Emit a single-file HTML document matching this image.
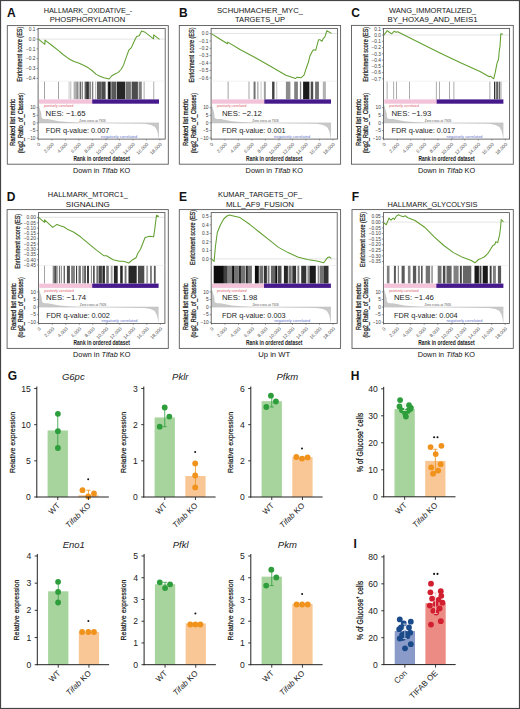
<!DOCTYPE html>
<html><head><meta charset="utf-8"><style>
html,body{margin:0;padding:0;background:#fff;}
body{width:520px;height:709px;overflow:hidden;font-family:'Liberation Sans',sans-serif;}
svg{display:block;}
</style></head><body>
<svg width="520" height="709" viewBox="0 0 520 709" style="font-family:'Liberation Sans',sans-serif"><rect x="0.00" y="0.00" width="520.00" height="709.00" fill="#fff" stroke="none" stroke-width="1"/><text x="7.00" y="16.90" font-size="12" font-weight="bold" fill="#111">A</text><text x="88.00" y="13.20" font-size="7.5" text-anchor="middle" fill="#151515" textLength="88.60" lengthAdjust="spacingAndGlyphs">HALLMARK_OXIDATIVE_-</text><text x="87.40" y="22.30" font-size="7.5" text-anchor="middle" fill="#151515" textLength="75.50" lengthAdjust="spacingAndGlyphs">PHOSPHORYLATION</text><rect x="7.30" y="25.60" width="161.00" height="138.60" fill="none" stroke="#5a5a5a" stroke-width="0.9"/><line x1="38.10" y1="39.10" x2="164.70" y2="39.10" stroke="#d8d8d8" stroke-width="0.7"/><rect x="44.10" y="81.50" width="0.80" height="17.80" fill="rgb(140,140,140)" stroke="none" stroke-width="1"/><rect x="58.20" y="81.50" width="0.80" height="17.80" fill="rgb(140,140,140)" stroke="none" stroke-width="1"/><rect x="68.70" y="81.50" width="0.70" height="17.80" fill="rgb(178,178,178)" stroke="none" stroke-width="1"/><rect x="70.50" y="81.50" width="0.70" height="17.80" fill="rgb(153,153,153)" stroke="none" stroke-width="1"/><rect x="73.60" y="81.50" width="2.40" height="17.80" fill="rgb(178,178,178)" stroke="none" stroke-width="1"/><rect x="76.20" y="81.50" width="2.30" height="17.80" fill="rgb(140,140,140)" stroke="none" stroke-width="1"/><rect x="79.70" y="81.50" width="1.00" height="17.80" fill="rgb(38,38,38)" stroke="none" stroke-width="1"/><rect x="81.60" y="81.50" width="1.30" height="17.80" fill="rgb(128,128,128)" stroke="none" stroke-width="1"/><rect x="84.70" y="81.50" width="1.00" height="17.80" fill="rgb(38,38,38)" stroke="none" stroke-width="1"/><rect x="86.10" y="81.50" width="2.80" height="17.80" fill="rgb(51,51,51)" stroke="none" stroke-width="1"/><rect x="89.60" y="81.50" width="0.90" height="17.80" fill="rgb(26,26,26)" stroke="none" stroke-width="1"/><rect x="91.90" y="81.50" width="1.40" height="17.80" fill="rgb(128,128,128)" stroke="none" stroke-width="1"/><rect x="95.10" y="81.50" width="0.80" height="17.80" fill="rgb(178,178,178)" stroke="none" stroke-width="1"/><rect x="96.90" y="81.50" width="4.80" height="17.80" fill="rgb(89,89,89)" stroke="none" stroke-width="1"/><rect x="101.80" y="81.50" width="3.80" height="17.80" fill="rgb(76,76,76)" stroke="none" stroke-width="1"/><rect x="106.90" y="81.50" width="0.80" height="17.80" fill="rgb(178,178,178)" stroke="none" stroke-width="1"/><rect x="108.10" y="81.50" width="2.60" height="17.80" fill="rgb(13,13,13)" stroke="none" stroke-width="1"/><rect x="111.30" y="81.50" width="5.10" height="17.80" fill="rgb(89,89,89)" stroke="none" stroke-width="1"/><rect x="116.90" y="81.50" width="8.40" height="17.80" fill="rgb(38,38,38)" stroke="none" stroke-width="1"/><rect x="125.90" y="81.50" width="5.00" height="17.80" fill="rgb(115,115,115)" stroke="none" stroke-width="1"/><rect x="131.60" y="81.50" width="6.30" height="17.80" fill="rgb(76,76,76)" stroke="none" stroke-width="1"/><rect x="138.60" y="81.50" width="3.20" height="17.80" fill="rgb(128,128,128)" stroke="none" stroke-width="1"/><rect x="143.70" y="81.50" width="0.80" height="17.80" fill="rgb(153,153,153)" stroke="none" stroke-width="1"/><rect x="153.40" y="81.50" width="0.80" height="17.80" fill="rgb(153,153,153)" stroke="none" stroke-width="1"/><rect x="38.90" y="99.40" width="53.30" height="4.30" fill="#f3c3da" stroke="none" stroke-width="1"/><rect x="92.20" y="99.40" width="66.80" height="4.30" fill="#46198c" stroke="none" stroke-width="1"/><polygon points="38.6,122.9 38.6,104.2 39.9,109.0 41.4,113.5 43.9,116.8 48.9,119.2 58.9,121.2 70.9,122.3 80.1,122.7 80.1,122.9" fill="#c8c8c8"/><polygon points="98.1,122.9 145.0,123.7 151.0,124.9 155.0,126.9 157.0,130.4 158.0,133.9 158.7,138.4 159.0,138.4 159.0,122.9" fill="#c8c8c8"/><line x1="38.10" y1="122.90" x2="159.00" y2="122.90" stroke="#bdbdbd" stroke-width="0.6"/><rect x="41.40" y="104.30" width="60.00" height="14.70" rx="3.2" fill="#fff"/><text x="43.90" y="107.30" font-size="3.2" fill="#e05a6a" textLength="29.50" lengthAdjust="spacingAndGlyphs">positively correlated</text><text x="79.30" y="122.20" font-size="3.0" fill="#555" textLength="26.50" lengthAdjust="spacingAndGlyphs">Zero cross at 7926</text><text x="101.10" y="137.60" font-size="3.2" fill="#6070c8" textLength="36.00" lengthAdjust="spacingAndGlyphs">negatively correlated</text><text x="45.60" y="116.00" font-size="7.8" fill="#222" textLength="40.00" lengthAdjust="spacingAndGlyphs">NES: −1.65</text><text x="45.80" y="132.50" font-size="7.6" fill="#222" textLength="63.60" lengthAdjust="spacingAndGlyphs">FDR q-value: 0.007</text><rect x="38.10" y="28.40" width="127.10" height="110.70" fill="none" stroke="#555" stroke-width="0.85"/><line x1="38.10" y1="81.20" x2="165.20" y2="81.20" stroke="#e4e4e4" stroke-width="0.5"/><polyline points="38.4,39.1 44.9,44.3 45.0,40.1 52.0,45.5 58.9,50.8 63.0,54.5 68.7,58.7 74.0,61.5 79.2,63.3 84.0,65.5 88.3,67.8 92.0,70.5 96.2,74.4 100.0,76.3 103.9,77.7 109.2,79.0 111.8,75.7 115.0,74.0 118.3,72.4 121.0,69.5 123.5,65.2 126.2,57.4 128.8,50.2 131.4,47.6 134.0,41.7 136.6,36.5 139.2,35.8 141.6,31.0 144.5,31.9 153.6,38.8 153.7,34.9 159.5,39.3" fill="none" stroke="#62a030" stroke-width="1.05" stroke-linejoin="round"/><line x1="36.50" y1="29.30" x2="38.10" y2="29.30" stroke="#555" stroke-width="0.6"/><text x="35.50" y="31.00" font-size="4.8" text-anchor="end" fill="#3a3a3a">0.1</text><line x1="36.50" y1="39.10" x2="38.10" y2="39.10" stroke="#555" stroke-width="0.6"/><text x="35.50" y="40.80" font-size="4.8" text-anchor="end" fill="#3a3a3a">0.0</text><line x1="36.50" y1="48.90" x2="38.10" y2="48.90" stroke="#555" stroke-width="0.6"/><text x="35.50" y="50.60" font-size="4.8" text-anchor="end" fill="#3a3a3a">−0.1</text><line x1="36.50" y1="58.70" x2="38.10" y2="58.70" stroke="#555" stroke-width="0.6"/><text x="35.50" y="60.40" font-size="4.8" text-anchor="end" fill="#3a3a3a">−0.2</text><line x1="36.50" y1="68.50" x2="38.10" y2="68.50" stroke="#555" stroke-width="0.6"/><text x="35.50" y="70.20" font-size="4.8" text-anchor="end" fill="#3a3a3a">−0.3</text><line x1="36.50" y1="78.30" x2="38.10" y2="78.30" stroke="#555" stroke-width="0.6"/><text x="35.50" y="80.00" font-size="4.8" text-anchor="end" fill="#3a3a3a">−0.4</text><line x1="36.50" y1="107.70" x2="38.10" y2="107.70" stroke="#555" stroke-width="0.6"/><text x="35.50" y="109.40" font-size="4.8" text-anchor="end" fill="#3a3a3a">10</text><line x1="36.50" y1="115.30" x2="38.10" y2="115.30" stroke="#555" stroke-width="0.6"/><text x="35.50" y="117.00" font-size="4.8" text-anchor="end" fill="#3a3a3a">5</text><line x1="36.50" y1="122.90" x2="38.10" y2="122.90" stroke="#555" stroke-width="0.6"/><text x="35.50" y="124.60" font-size="4.8" text-anchor="end" fill="#3a3a3a">0</text><line x1="36.50" y1="130.50" x2="38.10" y2="130.50" stroke="#555" stroke-width="0.6"/><text x="35.50" y="132.20" font-size="4.8" text-anchor="end" fill="#3a3a3a">−5</text><line x1="36.50" y1="138.10" x2="38.10" y2="138.10" stroke="#555" stroke-width="0.6"/><text x="35.50" y="139.80" font-size="4.8" text-anchor="end" fill="#3a3a3a">−10</text><line x1="38.40" y1="139.10" x2="38.40" y2="140.40" stroke="#555" stroke-width="0.6"/><text x="40.70" y="144.70" font-size="4.8" text-anchor="end" fill="#555" transform="rotate(-45 40.70 144.70)">0</text><line x1="51.90" y1="139.10" x2="51.90" y2="140.40" stroke="#555" stroke-width="0.6"/><text x="54.20" y="144.70" font-size="4.8" text-anchor="end" fill="#555" transform="rotate(-45 54.20 144.70)">2,000</text><line x1="65.40" y1="139.10" x2="65.40" y2="140.40" stroke="#555" stroke-width="0.6"/><text x="67.70" y="144.70" font-size="4.8" text-anchor="end" fill="#555" transform="rotate(-45 67.70 144.70)">4,000</text><line x1="78.90" y1="139.10" x2="78.90" y2="140.40" stroke="#555" stroke-width="0.6"/><text x="81.20" y="144.70" font-size="4.8" text-anchor="end" fill="#555" transform="rotate(-45 81.20 144.70)">6,000</text><line x1="92.40" y1="139.10" x2="92.40" y2="140.40" stroke="#555" stroke-width="0.6"/><text x="94.70" y="144.70" font-size="4.8" text-anchor="end" fill="#555" transform="rotate(-45 94.70 144.70)">8,000</text><line x1="105.90" y1="139.10" x2="105.90" y2="140.40" stroke="#555" stroke-width="0.6"/><text x="108.20" y="144.70" font-size="4.8" text-anchor="end" fill="#555" transform="rotate(-45 108.20 144.70)">10,000</text><line x1="119.40" y1="139.10" x2="119.40" y2="140.40" stroke="#555" stroke-width="0.6"/><text x="121.70" y="144.70" font-size="4.8" text-anchor="end" fill="#555" transform="rotate(-45 121.70 144.70)">12,000</text><line x1="132.90" y1="139.10" x2="132.90" y2="140.40" stroke="#555" stroke-width="0.6"/><text x="135.20" y="144.70" font-size="4.8" text-anchor="end" fill="#555" transform="rotate(-45 135.20 144.70)">14,000</text><line x1="146.40" y1="139.10" x2="146.40" y2="140.40" stroke="#555" stroke-width="0.6"/><text x="148.70" y="144.70" font-size="4.8" text-anchor="end" fill="#555" transform="rotate(-45 148.70 144.70)">16,000</text><line x1="159.90" y1="139.10" x2="159.90" y2="140.40" stroke="#555" stroke-width="0.6"/><text x="162.20" y="144.70" font-size="4.8" text-anchor="end" fill="#555" transform="rotate(-45 162.20 144.70)">18,000</text><text x="101.65" y="161.20" font-size="7.0" text-anchor="middle" font-weight="bold" fill="#222" textLength="56.30" lengthAdjust="spacingAndGlyphs">Rank in ordered dataset</text><text x="22.10" y="54.20" font-size="6.8" text-anchor="middle" fill="#1a1a1a" textLength="55.00" lengthAdjust="spacingAndGlyphs" transform="rotate(-90 22.10 54.20)" stroke="#1a1a1a" stroke-width="0.25">Enrichment score (ES)</text><text x="15.30" y="122.60" font-size="6.8" text-anchor="middle" fill="#1a1a1a" textLength="47.00" lengthAdjust="spacingAndGlyphs" transform="rotate(-90 15.30 122.60)" stroke="#1a1a1a" stroke-width="0.25">Ranked  list metric</text><text x="22.90" y="123.10" font-size="6.8" text-anchor="middle" fill="#1a1a1a" textLength="60.40" lengthAdjust="spacingAndGlyphs" transform="rotate(-90 22.90 123.10)" stroke="#1a1a1a" stroke-width="0.25">(log2_Ratio_of_Classes)</text><text x="101.65" y="172.70" font-size="7.4" text-anchor="middle" fill="#111" textLength="57.3" lengthAdjust="spacingAndGlyphs">Down in <tspan font-style="italic">Tifab</tspan> KO</text><text x="179.00" y="16.90" font-size="12" font-weight="bold" fill="#111">B</text><text x="260.00" y="13.20" font-size="7.5" text-anchor="middle" fill="#151515" textLength="86.00" lengthAdjust="spacingAndGlyphs">SCHUHMACHER_MYC_</text><text x="260.00" y="22.30" font-size="7.5" text-anchor="middle" fill="#151515" textLength="50.00" lengthAdjust="spacingAndGlyphs">TARGETS_UP</text><rect x="179.30" y="25.50" width="161.30" height="138.70" fill="none" stroke="#5a5a5a" stroke-width="0.9"/><line x1="211.10" y1="33.50" x2="336.90" y2="33.50" stroke="#d8d8d8" stroke-width="0.7"/><rect x="227.70" y="81.50" width="0.80" height="17.80" fill="rgb(140,140,140)" stroke="none" stroke-width="1"/><rect x="248.60" y="81.50" width="0.80" height="17.80" fill="rgb(140,140,140)" stroke="none" stroke-width="1"/><rect x="253.70" y="81.50" width="1.00" height="17.80" fill="rgb(51,51,51)" stroke="none" stroke-width="1"/><rect x="254.80" y="81.50" width="0.80" height="17.80" fill="rgb(128,128,128)" stroke="none" stroke-width="1"/><rect x="257.50" y="81.50" width="0.80" height="17.80" fill="rgb(115,115,115)" stroke="none" stroke-width="1"/><rect x="260.70" y="81.50" width="0.70" height="17.80" fill="rgb(178,178,178)" stroke="none" stroke-width="1"/><rect x="263.90" y="81.50" width="0.80" height="17.80" fill="rgb(115,115,115)" stroke="none" stroke-width="1"/><rect x="265.20" y="81.50" width="0.80" height="17.80" fill="rgb(153,153,153)" stroke="none" stroke-width="1"/><rect x="272.10" y="81.50" width="2.40" height="17.80" fill="rgb(64,64,64)" stroke="none" stroke-width="1"/><rect x="276.40" y="81.50" width="0.80" height="17.80" fill="rgb(178,178,178)" stroke="none" stroke-width="1"/><rect x="285.90" y="81.50" width="4.50" height="17.80" fill="rgb(140,140,140)" stroke="none" stroke-width="1"/><rect x="294.20" y="81.50" width="3.70" height="17.80" fill="rgb(128,128,128)" stroke="none" stroke-width="1"/><rect x="299.90" y="81.50" width="1.30" height="17.80" fill="rgb(128,128,128)" stroke="none" stroke-width="1"/><rect x="303.10" y="81.50" width="6.30" height="17.80" fill="rgb(26,26,26)" stroke="none" stroke-width="1"/><rect x="310.70" y="81.50" width="2.50" height="17.80" fill="rgb(76,76,76)" stroke="none" stroke-width="1"/><rect x="315.10" y="81.50" width="3.80" height="17.80" fill="rgb(115,115,115)" stroke="none" stroke-width="1"/><rect x="322.80" y="81.50" width="3.10" height="17.80" fill="rgb(178,178,178)" stroke="none" stroke-width="1"/><rect x="211.90" y="99.40" width="52.40" height="4.30" fill="#f3c3da" stroke="none" stroke-width="1"/><rect x="264.30" y="99.40" width="66.70" height="4.30" fill="#46198c" stroke="none" stroke-width="1"/><polygon points="211.6,122.9 211.6,104.2 212.9,109.0 214.4,113.5 216.9,116.8 221.9,119.2 231.9,121.2 243.9,122.3 253.1,122.7 253.1,122.9" fill="#c8c8c8"/><polygon points="271.1,122.9 317.0,123.7 323.0,124.9 327.0,126.9 329.0,130.4 330.0,133.9 330.7,138.4 331.0,138.4 331.0,122.9" fill="#c8c8c8"/><line x1="211.10" y1="122.90" x2="331.00" y2="122.90" stroke="#bdbdbd" stroke-width="0.6"/><rect x="214.40" y="104.30" width="60.00" height="14.70" rx="3.2" fill="#fff"/><text x="216.90" y="107.30" font-size="3.2" fill="#e05a6a" textLength="29.50" lengthAdjust="spacingAndGlyphs">positively correlated</text><text x="252.30" y="122.20" font-size="3.0" fill="#555" textLength="26.50" lengthAdjust="spacingAndGlyphs">Zero cross at 7926</text><text x="274.10" y="137.60" font-size="3.2" fill="#6070c8" textLength="36.00" lengthAdjust="spacingAndGlyphs">negatively correlated</text><text x="221.90" y="116.00" font-size="7.8" fill="#222" textLength="40.00" lengthAdjust="spacingAndGlyphs">NES: −2.12</text><text x="222.10" y="132.50" font-size="7.6" fill="#222" textLength="63.60" lengthAdjust="spacingAndGlyphs">FDR q-value: 0.001</text><rect x="211.10" y="28.40" width="126.30" height="110.70" fill="none" stroke="#555" stroke-width="0.85"/><line x1="211.10" y1="81.20" x2="337.40" y2="81.20" stroke="#e4e4e4" stroke-width="0.5"/><polyline points="211.3,33.6 219.0,38.5 227.5,43.7 227.8,42.1 240.0,49.5 255.0,57.5 270.0,66.0 285.9,75.3 295.6,78.4 297.2,77.3 300.9,77.8 304.0,75.2 306.2,68.3 308.3,62.5 309.9,56.1 312.5,50.9 313.6,49.8 315.7,50.3 316.7,46.6 318.6,39.7 319.9,39.7 322.0,41.3 323.1,38.7 324.7,37.1 325.2,36.0 326.8,30.8 331.5,33.4" fill="none" stroke="#62a030" stroke-width="1.05" stroke-linejoin="round"/><line x1="209.50" y1="33.60" x2="211.10" y2="33.60" stroke="#555" stroke-width="0.6"/><text x="208.50" y="35.30" font-size="4.8" text-anchor="end" fill="#3a3a3a">0.0</text><line x1="209.50" y1="41.00" x2="211.10" y2="41.00" stroke="#555" stroke-width="0.6"/><text x="208.50" y="42.70" font-size="4.8" text-anchor="end" fill="#3a3a3a">−0.1</text><line x1="209.50" y1="48.30" x2="211.10" y2="48.30" stroke="#555" stroke-width="0.6"/><text x="208.50" y="50.00" font-size="4.8" text-anchor="end" fill="#3a3a3a">−0.2</text><line x1="209.50" y1="55.70" x2="211.10" y2="55.70" stroke="#555" stroke-width="0.6"/><text x="208.50" y="57.40" font-size="4.8" text-anchor="end" fill="#3a3a3a">−0.3</text><line x1="209.50" y1="63.10" x2="211.10" y2="63.10" stroke="#555" stroke-width="0.6"/><text x="208.50" y="64.80" font-size="4.8" text-anchor="end" fill="#3a3a3a">−0.4</text><line x1="209.50" y1="70.40" x2="211.10" y2="70.40" stroke="#555" stroke-width="0.6"/><text x="208.50" y="72.10" font-size="4.8" text-anchor="end" fill="#3a3a3a">−0.5</text><line x1="209.50" y1="77.80" x2="211.10" y2="77.80" stroke="#555" stroke-width="0.6"/><text x="208.50" y="79.50" font-size="4.8" text-anchor="end" fill="#3a3a3a">−0.6</text><line x1="209.50" y1="107.70" x2="211.10" y2="107.70" stroke="#555" stroke-width="0.6"/><text x="208.50" y="109.40" font-size="4.8" text-anchor="end" fill="#3a3a3a">10</text><line x1="209.50" y1="115.30" x2="211.10" y2="115.30" stroke="#555" stroke-width="0.6"/><text x="208.50" y="117.00" font-size="4.8" text-anchor="end" fill="#3a3a3a">5</text><line x1="209.50" y1="122.90" x2="211.10" y2="122.90" stroke="#555" stroke-width="0.6"/><text x="208.50" y="124.60" font-size="4.8" text-anchor="end" fill="#3a3a3a">0</text><line x1="209.50" y1="130.50" x2="211.10" y2="130.50" stroke="#555" stroke-width="0.6"/><text x="208.50" y="132.20" font-size="4.8" text-anchor="end" fill="#3a3a3a">−5</text><line x1="209.50" y1="138.10" x2="211.10" y2="138.10" stroke="#555" stroke-width="0.6"/><text x="208.50" y="139.80" font-size="4.8" text-anchor="end" fill="#3a3a3a">−10</text><line x1="211.40" y1="139.10" x2="211.40" y2="140.40" stroke="#555" stroke-width="0.6"/><text x="213.70" y="144.70" font-size="4.8" text-anchor="end" fill="#555" transform="rotate(-45 213.70 144.70)">0</text><line x1="224.90" y1="139.10" x2="224.90" y2="140.40" stroke="#555" stroke-width="0.6"/><text x="227.20" y="144.70" font-size="4.8" text-anchor="end" fill="#555" transform="rotate(-45 227.20 144.70)">2,000</text><line x1="238.40" y1="139.10" x2="238.40" y2="140.40" stroke="#555" stroke-width="0.6"/><text x="240.70" y="144.70" font-size="4.8" text-anchor="end" fill="#555" transform="rotate(-45 240.70 144.70)">4,000</text><line x1="251.90" y1="139.10" x2="251.90" y2="140.40" stroke="#555" stroke-width="0.6"/><text x="254.20" y="144.70" font-size="4.8" text-anchor="end" fill="#555" transform="rotate(-45 254.20 144.70)">6,000</text><line x1="265.40" y1="139.10" x2="265.40" y2="140.40" stroke="#555" stroke-width="0.6"/><text x="267.70" y="144.70" font-size="4.8" text-anchor="end" fill="#555" transform="rotate(-45 267.70 144.70)">8,000</text><line x1="278.90" y1="139.10" x2="278.90" y2="140.40" stroke="#555" stroke-width="0.6"/><text x="281.20" y="144.70" font-size="4.8" text-anchor="end" fill="#555" transform="rotate(-45 281.20 144.70)">10,000</text><line x1="292.40" y1="139.10" x2="292.40" y2="140.40" stroke="#555" stroke-width="0.6"/><text x="294.70" y="144.70" font-size="4.8" text-anchor="end" fill="#555" transform="rotate(-45 294.70 144.70)">12,000</text><line x1="305.90" y1="139.10" x2="305.90" y2="140.40" stroke="#555" stroke-width="0.6"/><text x="308.20" y="144.70" font-size="4.8" text-anchor="end" fill="#555" transform="rotate(-45 308.20 144.70)">14,000</text><line x1="319.40" y1="139.10" x2="319.40" y2="140.40" stroke="#555" stroke-width="0.6"/><text x="321.70" y="144.70" font-size="4.8" text-anchor="end" fill="#555" transform="rotate(-45 321.70 144.70)">16,000</text><line x1="332.90" y1="139.10" x2="332.90" y2="140.40" stroke="#555" stroke-width="0.6"/><text x="335.20" y="144.70" font-size="4.8" text-anchor="end" fill="#555" transform="rotate(-45 335.20 144.70)">18,000</text><text x="274.25" y="161.20" font-size="7.0" text-anchor="middle" font-weight="bold" fill="#222" textLength="56.30" lengthAdjust="spacingAndGlyphs">Rank in ordered dataset</text><text x="194.45" y="55.00" font-size="6.8" text-anchor="middle" fill="#1a1a1a" textLength="55.00" lengthAdjust="spacingAndGlyphs" transform="rotate(-90 194.45 55.00)" stroke="#1a1a1a" stroke-width="0.25">Enrichment score (ES)</text><text x="188.30" y="122.60" font-size="6.8" text-anchor="middle" fill="#1a1a1a" textLength="47.00" lengthAdjust="spacingAndGlyphs" transform="rotate(-90 188.30 122.60)" stroke="#1a1a1a" stroke-width="0.25">Ranked  list metric</text><text x="195.90" y="123.10" font-size="6.8" text-anchor="middle" fill="#1a1a1a" textLength="60.40" lengthAdjust="spacingAndGlyphs" transform="rotate(-90 195.90 123.10)" stroke="#1a1a1a" stroke-width="0.25">(log2_Ratio_of_Classes)</text><text x="274.25" y="172.70" font-size="7.4" text-anchor="middle" fill="#111" textLength="57.3" lengthAdjust="spacingAndGlyphs">Down in <tspan font-style="italic">Tifab</tspan> KO</text><text x="351.20" y="16.90" font-size="12" font-weight="bold" fill="#111">C</text><text x="432.50" y="13.20" font-size="7.5" text-anchor="middle" fill="#151515" textLength="87.00" lengthAdjust="spacingAndGlyphs">WANG_IMMORTALIZED_</text><text x="432.50" y="22.30" font-size="7.5" text-anchor="middle" fill="#151515" textLength="90.00" lengthAdjust="spacingAndGlyphs">BY_HOXA9_AND_MEIS1</text><rect x="351.50" y="25.40" width="161.80" height="138.80" fill="none" stroke="#5a5a5a" stroke-width="0.9"/><line x1="383.50" y1="35.00" x2="509.10" y2="35.00" stroke="#d8d8d8" stroke-width="0.7"/><rect x="386.70" y="81.50" width="0.80" height="17.80" fill="rgb(153,153,153)" stroke="none" stroke-width="1"/><rect x="393.30" y="81.50" width="0.80" height="17.80" fill="rgb(153,153,153)" stroke="none" stroke-width="1"/><rect x="396.10" y="81.50" width="0.80" height="17.80" fill="rgb(153,153,153)" stroke="none" stroke-width="1"/><rect x="409.20" y="81.50" width="0.80" height="17.80" fill="rgb(153,153,153)" stroke="none" stroke-width="1"/><rect x="435.90" y="81.50" width="0.80" height="17.80" fill="rgb(153,153,153)" stroke="none" stroke-width="1"/><rect x="439.00" y="81.50" width="0.80" height="17.80" fill="rgb(153,153,153)" stroke="none" stroke-width="1"/><rect x="449.10" y="81.50" width="0.80" height="17.80" fill="rgb(153,153,153)" stroke="none" stroke-width="1"/><rect x="453.50" y="81.50" width="0.80" height="17.80" fill="rgb(153,153,153)" stroke="none" stroke-width="1"/><rect x="489.50" y="81.50" width="0.80" height="17.80" fill="rgb(153,153,153)" stroke="none" stroke-width="1"/><rect x="494.10" y="81.50" width="0.90" height="17.80" fill="rgb(26,26,26)" stroke="none" stroke-width="1"/><rect x="495.70" y="81.50" width="0.90" height="17.80" fill="rgb(26,26,26)" stroke="none" stroke-width="1"/><rect x="497.30" y="81.50" width="0.90" height="17.80" fill="rgb(26,26,26)" stroke="none" stroke-width="1"/><rect x="498.90" y="81.50" width="0.90" height="17.80" fill="rgb(64,64,64)" stroke="none" stroke-width="1"/><rect x="500.50" y="81.50" width="0.90" height="17.80" fill="rgb(140,140,140)" stroke="none" stroke-width="1"/><rect x="384.30" y="99.40" width="52.30" height="4.30" fill="#f3c3da" stroke="none" stroke-width="1"/><rect x="436.60" y="99.40" width="66.80" height="4.30" fill="#46198c" stroke="none" stroke-width="1"/><polygon points="384.0,122.9 384.0,104.2 385.3,109.0 386.8,113.5 389.3,116.8 394.3,119.2 404.3,121.2 416.3,122.3 425.5,122.7 425.5,122.9" fill="#c8c8c8"/><polygon points="443.5,122.9 489.4,123.7 495.4,124.9 499.4,126.9 501.4,130.4 502.4,133.9 503.1,138.4 503.4,138.4 503.4,122.9" fill="#c8c8c8"/><line x1="383.50" y1="122.90" x2="503.40" y2="122.90" stroke="#bdbdbd" stroke-width="0.6"/><rect x="386.80" y="104.30" width="60.00" height="14.70" rx="3.2" fill="#fff"/><text x="389.30" y="107.30" font-size="3.2" fill="#e05a6a" textLength="29.50" lengthAdjust="spacingAndGlyphs">positively correlated</text><text x="424.70" y="122.20" font-size="3.0" fill="#555" textLength="26.50" lengthAdjust="spacingAndGlyphs">Zero cross at 7926</text><text x="446.50" y="137.60" font-size="3.2" fill="#6070c8" textLength="36.00" lengthAdjust="spacingAndGlyphs">negatively correlated</text><text x="391.40" y="116.00" font-size="7.8" fill="#222" textLength="40.00" lengthAdjust="spacingAndGlyphs">NES: −1.93</text><text x="391.60" y="132.50" font-size="7.6" fill="#222" textLength="63.60" lengthAdjust="spacingAndGlyphs">FDR q-value: 0.017</text><rect x="383.50" y="28.40" width="126.10" height="110.70" fill="none" stroke="#555" stroke-width="0.85"/><line x1="383.50" y1="81.20" x2="509.60" y2="81.20" stroke="#e4e4e4" stroke-width="0.5"/><polyline points="383.8,35.1 387.3,30.7 389.5,32.5 391.7,33.8 394.3,31.2 396.0,32.2 397.7,31.7 420.0,43.0 440.0,53.0 460.0,62.5 480.0,71.5 489.3,76.8 490.5,76.2 493.7,78.8 495.3,72.2 497.0,63.4 498.6,59.0 499.2,51.3 500.0,46.4 500.8,33.7 503.0,34.3" fill="none" stroke="#62a030" stroke-width="1.05" stroke-linejoin="round"/><line x1="381.90" y1="28.80" x2="383.50" y2="28.80" stroke="#555" stroke-width="0.6"/><text x="380.90" y="30.50" font-size="4.8" text-anchor="end" fill="#3a3a3a">0.1</text><line x1="381.90" y1="35.10" x2="383.50" y2="35.10" stroke="#555" stroke-width="0.6"/><text x="380.90" y="36.80" font-size="4.8" text-anchor="end" fill="#3a3a3a">0.0</text><line x1="381.90" y1="41.30" x2="383.50" y2="41.30" stroke="#555" stroke-width="0.6"/><text x="380.90" y="43.00" font-size="4.8" text-anchor="end" fill="#3a3a3a">−0.1</text><line x1="381.90" y1="47.60" x2="383.50" y2="47.60" stroke="#555" stroke-width="0.6"/><text x="380.90" y="49.30" font-size="4.8" text-anchor="end" fill="#3a3a3a">−0.2</text><line x1="381.90" y1="53.80" x2="383.50" y2="53.80" stroke="#555" stroke-width="0.6"/><text x="380.90" y="55.50" font-size="4.8" text-anchor="end" fill="#3a3a3a">−0.3</text><line x1="381.90" y1="60.10" x2="383.50" y2="60.10" stroke="#555" stroke-width="0.6"/><text x="380.90" y="61.80" font-size="4.8" text-anchor="end" fill="#3a3a3a">−0.4</text><line x1="381.90" y1="66.30" x2="383.50" y2="66.30" stroke="#555" stroke-width="0.6"/><text x="380.90" y="68.00" font-size="4.8" text-anchor="end" fill="#3a3a3a">−0.5</text><line x1="381.90" y1="72.60" x2="383.50" y2="72.60" stroke="#555" stroke-width="0.6"/><text x="380.90" y="74.30" font-size="4.8" text-anchor="end" fill="#3a3a3a">−0.6</text><line x1="381.90" y1="78.80" x2="383.50" y2="78.80" stroke="#555" stroke-width="0.6"/><text x="380.90" y="80.50" font-size="4.8" text-anchor="end" fill="#3a3a3a">−0.7</text><line x1="381.90" y1="107.70" x2="383.50" y2="107.70" stroke="#555" stroke-width="0.6"/><text x="380.90" y="109.40" font-size="4.8" text-anchor="end" fill="#3a3a3a">10</text><line x1="381.90" y1="115.30" x2="383.50" y2="115.30" stroke="#555" stroke-width="0.6"/><text x="380.90" y="117.00" font-size="4.8" text-anchor="end" fill="#3a3a3a">5</text><line x1="381.90" y1="122.90" x2="383.50" y2="122.90" stroke="#555" stroke-width="0.6"/><text x="380.90" y="124.60" font-size="4.8" text-anchor="end" fill="#3a3a3a">0</text><line x1="381.90" y1="130.50" x2="383.50" y2="130.50" stroke="#555" stroke-width="0.6"/><text x="380.90" y="132.20" font-size="4.8" text-anchor="end" fill="#3a3a3a">−5</text><line x1="381.90" y1="138.10" x2="383.50" y2="138.10" stroke="#555" stroke-width="0.6"/><text x="380.90" y="139.80" font-size="4.8" text-anchor="end" fill="#3a3a3a">−10</text><line x1="383.80" y1="139.10" x2="383.80" y2="140.40" stroke="#555" stroke-width="0.6"/><text x="386.10" y="144.70" font-size="4.8" text-anchor="end" fill="#555" transform="rotate(-45 386.10 144.70)">0</text><line x1="397.30" y1="139.10" x2="397.30" y2="140.40" stroke="#555" stroke-width="0.6"/><text x="399.60" y="144.70" font-size="4.8" text-anchor="end" fill="#555" transform="rotate(-45 399.60 144.70)">2,000</text><line x1="410.80" y1="139.10" x2="410.80" y2="140.40" stroke="#555" stroke-width="0.6"/><text x="413.10" y="144.70" font-size="4.8" text-anchor="end" fill="#555" transform="rotate(-45 413.10 144.70)">4,000</text><line x1="424.30" y1="139.10" x2="424.30" y2="140.40" stroke="#555" stroke-width="0.6"/><text x="426.60" y="144.70" font-size="4.8" text-anchor="end" fill="#555" transform="rotate(-45 426.60 144.70)">6,000</text><line x1="437.80" y1="139.10" x2="437.80" y2="140.40" stroke="#555" stroke-width="0.6"/><text x="440.10" y="144.70" font-size="4.8" text-anchor="end" fill="#555" transform="rotate(-45 440.10 144.70)">8,000</text><line x1="451.30" y1="139.10" x2="451.30" y2="140.40" stroke="#555" stroke-width="0.6"/><text x="453.60" y="144.70" font-size="4.8" text-anchor="end" fill="#555" transform="rotate(-45 453.60 144.70)">10,000</text><line x1="464.80" y1="139.10" x2="464.80" y2="140.40" stroke="#555" stroke-width="0.6"/><text x="467.10" y="144.70" font-size="4.8" text-anchor="end" fill="#555" transform="rotate(-45 467.10 144.70)">12,000</text><line x1="478.30" y1="139.10" x2="478.30" y2="140.40" stroke="#555" stroke-width="0.6"/><text x="480.60" y="144.70" font-size="4.8" text-anchor="end" fill="#555" transform="rotate(-45 480.60 144.70)">14,000</text><line x1="491.80" y1="139.10" x2="491.80" y2="140.40" stroke="#555" stroke-width="0.6"/><text x="494.10" y="144.70" font-size="4.8" text-anchor="end" fill="#555" transform="rotate(-45 494.10 144.70)">16,000</text><line x1="505.30" y1="139.10" x2="505.30" y2="140.40" stroke="#555" stroke-width="0.6"/><text x="507.60" y="144.70" font-size="4.8" text-anchor="end" fill="#555" transform="rotate(-45 507.60 144.70)">18,000</text><text x="446.55" y="161.20" font-size="7.0" text-anchor="middle" font-weight="bold" fill="#222" textLength="56.30" lengthAdjust="spacingAndGlyphs">Rank in ordered dataset</text><text x="367.60" y="54.35" font-size="6.8" text-anchor="middle" fill="#1a1a1a" textLength="55.00" lengthAdjust="spacingAndGlyphs" transform="rotate(-90 367.60 54.35)" stroke="#1a1a1a" stroke-width="0.25">Enrichment score (ES)</text><text x="360.70" y="122.60" font-size="6.8" text-anchor="middle" fill="#1a1a1a" textLength="47.00" lengthAdjust="spacingAndGlyphs" transform="rotate(-90 360.70 122.60)" stroke="#1a1a1a" stroke-width="0.25">Ranked  list metric</text><text x="368.30" y="123.10" font-size="6.8" text-anchor="middle" fill="#1a1a1a" textLength="60.40" lengthAdjust="spacingAndGlyphs" transform="rotate(-90 368.30 123.10)" stroke="#1a1a1a" stroke-width="0.25">(log2_Ratio_of_Classes)</text><text x="446.55" y="172.70" font-size="7.4" text-anchor="middle" fill="#111" textLength="57.3" lengthAdjust="spacingAndGlyphs">Down in <tspan font-style="italic">Tifab</tspan> KO</text><text x="6.80" y="201.10" font-size="12" font-weight="bold" fill="#111">D</text><text x="87.80" y="197.40" font-size="7.5" text-anchor="middle" fill="#151515" textLength="80.00" lengthAdjust="spacingAndGlyphs">HALLMARK_MTORC1_</text><text x="87.80" y="206.50" font-size="7.5" text-anchor="middle" fill="#151515" textLength="44.00" lengthAdjust="spacingAndGlyphs">SIGNALING</text><rect x="7.10" y="209.60" width="161.20" height="138.80" fill="none" stroke="#5a5a5a" stroke-width="0.9"/><line x1="38.50" y1="217.30" x2="164.40" y2="217.30" stroke="#d8d8d8" stroke-width="0.7"/><rect x="44.10" y="265.70" width="0.80" height="17.80" fill="rgb(140,140,140)" stroke="none" stroke-width="1"/><rect x="52.70" y="265.70" width="1.20" height="17.80" fill="rgb(128,128,128)" stroke="none" stroke-width="1"/><rect x="54.20" y="265.70" width="2.40" height="17.80" fill="rgb(76,76,76)" stroke="none" stroke-width="1"/><rect x="56.90" y="265.70" width="0.80" height="17.80" fill="rgb(140,140,140)" stroke="none" stroke-width="1"/><rect x="58.90" y="265.70" width="1.20" height="17.80" fill="rgb(115,115,115)" stroke="none" stroke-width="1"/><rect x="60.90" y="265.70" width="1.00" height="17.80" fill="rgb(140,140,140)" stroke="none" stroke-width="1"/><rect x="63.70" y="265.70" width="1.00" height="17.80" fill="rgb(38,38,38)" stroke="none" stroke-width="1"/><rect x="66.90" y="265.70" width="3.00" height="17.80" fill="rgb(76,76,76)" stroke="none" stroke-width="1"/><rect x="71.10" y="265.70" width="3.80" height="17.80" fill="rgb(128,128,128)" stroke="none" stroke-width="1"/><rect x="76.10" y="265.70" width="1.00" height="17.80" fill="rgb(38,38,38)" stroke="none" stroke-width="1"/><rect x="78.50" y="265.70" width="2.40" height="17.80" fill="rgb(115,115,115)" stroke="none" stroke-width="1"/><rect x="82.20" y="265.70" width="1.50" height="17.80" fill="rgb(128,128,128)" stroke="none" stroke-width="1"/><rect x="84.20" y="265.70" width="1.70" height="17.80" fill="rgb(76,76,76)" stroke="none" stroke-width="1"/><rect x="87.10" y="265.70" width="1.80" height="17.80" fill="rgb(38,38,38)" stroke="none" stroke-width="1"/><rect x="90.90" y="265.70" width="0.90" height="17.80" fill="rgb(115,115,115)" stroke="none" stroke-width="1"/><rect x="93.30" y="265.70" width="1.20" height="17.80" fill="rgb(13,13,13)" stroke="none" stroke-width="1"/><rect x="96.40" y="265.70" width="2.00" height="17.80" fill="rgb(115,115,115)" stroke="none" stroke-width="1"/><rect x="98.70" y="265.70" width="3.20" height="17.80" fill="rgb(64,64,64)" stroke="none" stroke-width="1"/><rect x="102.40" y="265.70" width="2.50" height="17.80" fill="rgb(38,38,38)" stroke="none" stroke-width="1"/><rect x="106.20" y="265.70" width="2.60" height="17.80" fill="rgb(115,115,115)" stroke="none" stroke-width="1"/><rect x="110.70" y="265.70" width="1.90" height="17.80" fill="rgb(166,166,166)" stroke="none" stroke-width="1"/><rect x="113.90" y="265.70" width="3.80" height="17.80" fill="rgb(38,38,38)" stroke="none" stroke-width="1"/><rect x="120.20" y="265.70" width="2.50" height="17.80" fill="rgb(38,38,38)" stroke="none" stroke-width="1"/><rect x="124.60" y="265.70" width="1.90" height="17.80" fill="rgb(115,115,115)" stroke="none" stroke-width="1"/><rect x="128.50" y="265.70" width="8.20" height="17.80" fill="rgb(38,38,38)" stroke="none" stroke-width="1"/><rect x="137.90" y="265.70" width="6.40" height="17.80" fill="rgb(76,76,76)" stroke="none" stroke-width="1"/><rect x="146.20" y="265.70" width="1.90" height="17.80" fill="rgb(166,166,166)" stroke="none" stroke-width="1"/><rect x="150.00" y="265.70" width="1.90" height="17.80" fill="rgb(128,128,128)" stroke="none" stroke-width="1"/><rect x="153.90" y="265.70" width="1.80" height="17.80" fill="rgb(89,89,89)" stroke="none" stroke-width="1"/><rect x="39.30" y="283.60" width="52.90" height="4.30" fill="#f3c3da" stroke="none" stroke-width="1"/><rect x="92.20" y="283.60" width="66.40" height="4.30" fill="#46198c" stroke="none" stroke-width="1"/><polygon points="39.0,307.1 39.0,288.4 40.3,293.2 41.8,297.7 44.3,301.0 49.3,303.4 59.3,305.4 71.3,306.5 80.5,306.9 80.5,307.1" fill="#c8c8c8"/><polygon points="98.5,307.1 144.6,307.9 150.6,309.1 154.6,311.1 156.6,314.6 157.6,318.1 158.3,322.6 158.6,322.6 158.6,307.1" fill="#c8c8c8"/><line x1="38.50" y1="307.10" x2="158.60" y2="307.10" stroke="#bdbdbd" stroke-width="0.6"/><rect x="41.80" y="288.50" width="60.00" height="14.70" rx="3.2" fill="#fff"/><text x="44.30" y="291.50" font-size="3.2" fill="#e05a6a" textLength="29.50" lengthAdjust="spacingAndGlyphs">positively correlated</text><text x="79.70" y="306.40" font-size="3.0" fill="#555" textLength="26.50" lengthAdjust="spacingAndGlyphs">Zero cross at 7926</text><text x="101.50" y="321.80" font-size="3.2" fill="#6070c8" textLength="36.00" lengthAdjust="spacingAndGlyphs">negatively correlated</text><text x="46.10" y="300.20" font-size="7.8" fill="#222" textLength="40.00" lengthAdjust="spacingAndGlyphs">NES: −1.74</text><text x="46.30" y="317.70" font-size="7.6" fill="#222" textLength="63.60" lengthAdjust="spacingAndGlyphs">FDR q-value: 0.002</text><rect x="38.50" y="212.60" width="126.40" height="110.90" fill="none" stroke="#555" stroke-width="0.85"/><line x1="38.50" y1="265.40" x2="164.90" y2="265.40" stroke="#e4e4e4" stroke-width="0.5"/><polyline points="38.6,217.3 44.5,222.4 44.6,219.8 52.7,227.4 56.9,224.4 60.2,225.7 64.1,227.0 68.0,229.6 73.9,232.2 80.5,236.8 88.3,243.3 96.2,249.9 104.0,255.8 106.5,255.8 113.1,259.7 119.6,261.3 123.5,261.3 128.8,263.0 132.7,259.7 136.0,257.7 137.9,253.2 140.5,249.2 145.1,237.5 149.7,236.2 153.6,236.8 154.7,229.6 155.6,222.4 156.5,215.2 158.8,216.5" fill="none" stroke="#62a030" stroke-width="1.05" stroke-linejoin="round"/><line x1="36.90" y1="217.50" x2="38.50" y2="217.50" stroke="#555" stroke-width="0.6"/><text x="35.90" y="219.20" font-size="4.8" text-anchor="end" fill="#3a3a3a">0.00</text><line x1="36.90" y1="222.80" x2="38.50" y2="222.80" stroke="#555" stroke-width="0.6"/><text x="35.90" y="224.50" font-size="4.8" text-anchor="end" fill="#3a3a3a">−0.05</text><line x1="36.90" y1="228.10" x2="38.50" y2="228.10" stroke="#555" stroke-width="0.6"/><text x="35.90" y="229.80" font-size="4.8" text-anchor="end" fill="#3a3a3a">−0.10</text><line x1="36.90" y1="233.40" x2="38.50" y2="233.40" stroke="#555" stroke-width="0.6"/><text x="35.90" y="235.10" font-size="4.8" text-anchor="end" fill="#3a3a3a">−0.15</text><line x1="36.90" y1="238.70" x2="38.50" y2="238.70" stroke="#555" stroke-width="0.6"/><text x="35.90" y="240.40" font-size="4.8" text-anchor="end" fill="#3a3a3a">−0.20</text><line x1="36.90" y1="244.00" x2="38.50" y2="244.00" stroke="#555" stroke-width="0.6"/><text x="35.90" y="245.70" font-size="4.8" text-anchor="end" fill="#3a3a3a">−0.25</text><line x1="36.90" y1="249.30" x2="38.50" y2="249.30" stroke="#555" stroke-width="0.6"/><text x="35.90" y="251.00" font-size="4.8" text-anchor="end" fill="#3a3a3a">−0.30</text><line x1="36.90" y1="254.50" x2="38.50" y2="254.50" stroke="#555" stroke-width="0.6"/><text x="35.90" y="256.20" font-size="4.8" text-anchor="end" fill="#3a3a3a">−0.35</text><line x1="36.90" y1="259.80" x2="38.50" y2="259.80" stroke="#555" stroke-width="0.6"/><text x="35.90" y="261.50" font-size="4.8" text-anchor="end" fill="#3a3a3a">−0.40</text><line x1="36.90" y1="265.10" x2="38.50" y2="265.10" stroke="#555" stroke-width="0.6"/><text x="35.90" y="266.80" font-size="4.8" text-anchor="end" fill="#3a3a3a">−0.45</text><line x1="36.90" y1="291.90" x2="38.50" y2="291.90" stroke="#555" stroke-width="0.6"/><text x="35.90" y="293.60" font-size="4.8" text-anchor="end" fill="#3a3a3a">10</text><line x1="36.90" y1="299.50" x2="38.50" y2="299.50" stroke="#555" stroke-width="0.6"/><text x="35.90" y="301.20" font-size="4.8" text-anchor="end" fill="#3a3a3a">5</text><line x1="36.90" y1="307.10" x2="38.50" y2="307.10" stroke="#555" stroke-width="0.6"/><text x="35.90" y="308.80" font-size="4.8" text-anchor="end" fill="#3a3a3a">0</text><line x1="36.90" y1="314.70" x2="38.50" y2="314.70" stroke="#555" stroke-width="0.6"/><text x="35.90" y="316.40" font-size="4.8" text-anchor="end" fill="#3a3a3a">−5</text><line x1="36.90" y1="322.30" x2="38.50" y2="322.30" stroke="#555" stroke-width="0.6"/><text x="35.90" y="324.00" font-size="4.8" text-anchor="end" fill="#3a3a3a">−10</text><line x1="38.80" y1="323.50" x2="38.80" y2="324.80" stroke="#555" stroke-width="0.6"/><text x="41.10" y="329.10" font-size="4.8" text-anchor="end" fill="#555" transform="rotate(-45 41.10 329.10)">0</text><line x1="52.30" y1="323.50" x2="52.30" y2="324.80" stroke="#555" stroke-width="0.6"/><text x="54.60" y="329.10" font-size="4.8" text-anchor="end" fill="#555" transform="rotate(-45 54.60 329.10)">2,000</text><line x1="65.80" y1="323.50" x2="65.80" y2="324.80" stroke="#555" stroke-width="0.6"/><text x="68.10" y="329.10" font-size="4.8" text-anchor="end" fill="#555" transform="rotate(-45 68.10 329.10)">4,000</text><line x1="79.30" y1="323.50" x2="79.30" y2="324.80" stroke="#555" stroke-width="0.6"/><text x="81.60" y="329.10" font-size="4.8" text-anchor="end" fill="#555" transform="rotate(-45 81.60 329.10)">6,000</text><line x1="92.80" y1="323.50" x2="92.80" y2="324.80" stroke="#555" stroke-width="0.6"/><text x="95.10" y="329.10" font-size="4.8" text-anchor="end" fill="#555" transform="rotate(-45 95.10 329.10)">8,000</text><line x1="106.30" y1="323.50" x2="106.30" y2="324.80" stroke="#555" stroke-width="0.6"/><text x="108.60" y="329.10" font-size="4.8" text-anchor="end" fill="#555" transform="rotate(-45 108.60 329.10)">10,000</text><line x1="119.80" y1="323.50" x2="119.80" y2="324.80" stroke="#555" stroke-width="0.6"/><text x="122.10" y="329.10" font-size="4.8" text-anchor="end" fill="#555" transform="rotate(-45 122.10 329.10)">12,000</text><line x1="133.30" y1="323.50" x2="133.30" y2="324.80" stroke="#555" stroke-width="0.6"/><text x="135.60" y="329.10" font-size="4.8" text-anchor="end" fill="#555" transform="rotate(-45 135.60 329.10)">14,000</text><line x1="146.80" y1="323.50" x2="146.80" y2="324.80" stroke="#555" stroke-width="0.6"/><text x="149.10" y="329.10" font-size="4.8" text-anchor="end" fill="#555" transform="rotate(-45 149.10 329.10)">16,000</text><line x1="160.30" y1="323.50" x2="160.30" y2="324.80" stroke="#555" stroke-width="0.6"/><text x="162.60" y="329.10" font-size="4.8" text-anchor="end" fill="#555" transform="rotate(-45 162.60 329.10)">18,000</text><text x="101.70" y="345.40" font-size="7.0" text-anchor="middle" font-weight="bold" fill="#222" textLength="56.30" lengthAdjust="spacingAndGlyphs">Rank in ordered dataset</text><text x="19.65" y="241.35" font-size="6.8" text-anchor="middle" fill="#1a1a1a" textLength="55.00" lengthAdjust="spacingAndGlyphs" transform="rotate(-90 19.65 241.35)" stroke="#1a1a1a" stroke-width="0.25">Enrichment score (ES)</text><text x="15.70" y="306.80" font-size="6.8" text-anchor="middle" fill="#1a1a1a" textLength="47.00" lengthAdjust="spacingAndGlyphs" transform="rotate(-90 15.70 306.80)" stroke="#1a1a1a" stroke-width="0.25">Ranked  list metric</text><text x="23.30" y="307.30" font-size="6.8" text-anchor="middle" fill="#1a1a1a" textLength="60.40" lengthAdjust="spacingAndGlyphs" transform="rotate(-90 23.30 307.30)" stroke="#1a1a1a" stroke-width="0.25">(log2_Ratio_of_Classes)</text><text x="101.70" y="356.90" font-size="7.4" text-anchor="middle" fill="#111" textLength="57.3" lengthAdjust="spacingAndGlyphs">Down in <tspan font-style="italic">Tifab</tspan> KO</text><text x="179.00" y="201.10" font-size="12" font-weight="bold" fill="#111">E</text><text x="260.00" y="197.40" font-size="7.5" text-anchor="middle" fill="#151515" textLength="84.00" lengthAdjust="spacingAndGlyphs">KUMAR_TARGETS_OF_</text><text x="260.00" y="206.50" font-size="7.5" text-anchor="middle" fill="#151515" textLength="68.00" lengthAdjust="spacingAndGlyphs">MLL_AF9_FUSION</text><rect x="179.30" y="209.60" width="161.30" height="138.80" fill="none" stroke="#5a5a5a" stroke-width="0.9"/><line x1="211.20" y1="258.90" x2="336.70" y2="258.90" stroke="#d8d8d8" stroke-width="0.7"/><rect x="213.70" y="265.70" width="10.20" height="17.80" fill="rgb(13,13,13)" stroke="none" stroke-width="1"/><rect x="223.90" y="265.70" width="3.80" height="17.80" fill="rgb(64,64,64)" stroke="none" stroke-width="1"/><rect x="227.70" y="265.70" width="4.40" height="17.80" fill="rgb(128,128,128)" stroke="none" stroke-width="1"/><rect x="232.10" y="265.70" width="1.90" height="17.80" fill="rgb(13,13,13)" stroke="none" stroke-width="1"/><rect x="234.00" y="265.70" width="4.90" height="17.80" fill="rgb(115,115,115)" stroke="none" stroke-width="1"/><rect x="239.10" y="265.70" width="1.80" height="17.80" fill="rgb(13,13,13)" stroke="none" stroke-width="1"/><rect x="240.90" y="265.70" width="4.50" height="17.80" fill="rgb(115,115,115)" stroke="none" stroke-width="1"/><rect x="245.90" y="265.70" width="2.00" height="17.80" fill="rgb(38,38,38)" stroke="none" stroke-width="1"/><rect x="247.90" y="265.70" width="4.00" height="17.80" fill="rgb(115,115,115)" stroke="none" stroke-width="1"/><rect x="254.90" y="265.70" width="3.90" height="17.80" fill="rgb(13,13,13)" stroke="none" stroke-width="1"/><rect x="259.40" y="265.70" width="3.80" height="17.80" fill="rgb(115,115,115)" stroke="none" stroke-width="1"/><rect x="263.90" y="265.70" width="3.00" height="17.80" fill="rgb(51,51,51)" stroke="none" stroke-width="1"/><rect x="267.60" y="265.70" width="1.90" height="17.80" fill="rgb(128,128,128)" stroke="none" stroke-width="1"/><rect x="270.90" y="265.70" width="4.30" height="17.80" fill="rgb(102,102,102)" stroke="none" stroke-width="1"/><rect x="275.20" y="265.70" width="1.90" height="17.80" fill="rgb(13,13,13)" stroke="none" stroke-width="1"/><rect x="277.70" y="265.70" width="3.80" height="17.80" fill="rgb(76,76,76)" stroke="none" stroke-width="1"/><rect x="283.90" y="265.70" width="4.00" height="17.80" fill="rgb(38,38,38)" stroke="none" stroke-width="1"/><rect x="288.50" y="265.70" width="3.20" height="17.80" fill="rgb(115,115,115)" stroke="none" stroke-width="1"/><rect x="292.30" y="265.70" width="3.80" height="17.80" fill="rgb(51,51,51)" stroke="none" stroke-width="1"/><rect x="297.40" y="265.70" width="1.90" height="17.80" fill="rgb(128,128,128)" stroke="none" stroke-width="1"/><rect x="301.20" y="265.70" width="5.10" height="17.80" fill="rgb(51,51,51)" stroke="none" stroke-width="1"/><rect x="307.50" y="265.70" width="1.40" height="17.80" fill="rgb(128,128,128)" stroke="none" stroke-width="1"/><rect x="309.40" y="265.70" width="6.40" height="17.80" fill="rgb(26,26,26)" stroke="none" stroke-width="1"/><rect x="317.70" y="265.70" width="1.20" height="17.80" fill="rgb(128,128,128)" stroke="none" stroke-width="1"/><rect x="319.60" y="265.70" width="4.40" height="17.80" fill="rgb(115,115,115)" stroke="none" stroke-width="1"/><rect x="324.00" y="265.70" width="4.50" height="17.80" fill="rgb(51,51,51)" stroke="none" stroke-width="1"/><rect x="212.00" y="283.60" width="52.00" height="4.30" fill="#f3c3da" stroke="none" stroke-width="1"/><rect x="264.00" y="283.60" width="66.90" height="4.30" fill="#46198c" stroke="none" stroke-width="1"/><polygon points="211.7,307.1 211.7,288.4 213.0,293.2 214.5,297.7 217.0,301.0 222.0,303.4 232.0,305.4 244.0,306.5 253.2,306.9 253.2,307.1" fill="#c8c8c8"/><polygon points="271.2,307.1 316.9,307.9 322.9,309.1 326.9,311.1 328.9,314.6 329.9,318.1 330.6,322.6 330.9,322.6 330.9,307.1" fill="#c8c8c8"/><line x1="211.20" y1="307.10" x2="330.90" y2="307.10" stroke="#bdbdbd" stroke-width="0.6"/><rect x="214.50" y="288.50" width="60.00" height="14.70" rx="3.2" fill="#fff"/><text x="217.00" y="291.50" font-size="3.2" fill="#e05a6a" textLength="29.50" lengthAdjust="spacingAndGlyphs">positively correlated</text><text x="252.40" y="306.40" font-size="3.0" fill="#555" textLength="26.50" lengthAdjust="spacingAndGlyphs">Zero cross at 7926</text><text x="274.20" y="321.80" font-size="3.2" fill="#6070c8" textLength="36.00" lengthAdjust="spacingAndGlyphs">negatively correlated</text><text x="221.90" y="300.20" font-size="7.8" fill="#222" textLength="35.50" lengthAdjust="spacingAndGlyphs">NES: 1.98</text><text x="222.10" y="317.70" font-size="7.6" fill="#222" textLength="63.60" lengthAdjust="spacingAndGlyphs">FDR q-value: 0.003</text><rect x="211.20" y="212.60" width="126.00" height="110.90" fill="none" stroke="#555" stroke-width="0.85"/><line x1="211.20" y1="265.40" x2="337.20" y2="265.40" stroke="#e4e4e4" stroke-width="0.5"/><polyline points="211.5,258.9 214.1,261.5 215.4,246.7 217.3,232.5 220.5,224.8 223.7,219.0 227.0,216.0 229.5,215.1 233.4,216.0 240.0,217.6 249.6,224.3 259.2,232.0 268.8,239.7 278.5,247.4 288.1,252.6 297.7,257.0 307.3,259.5 316.9,260.9 323.7,262.8 327.5,257.6 329.4,257.0 331.3,258.4" fill="none" stroke="#62a030" stroke-width="1.05" stroke-linejoin="round"/><line x1="209.60" y1="216.40" x2="211.20" y2="216.40" stroke="#555" stroke-width="0.6"/><text x="208.60" y="218.10" font-size="4.8" text-anchor="end" fill="#3a3a3a">0.5</text><line x1="209.60" y1="224.90" x2="211.20" y2="224.90" stroke="#555" stroke-width="0.6"/><text x="208.60" y="226.60" font-size="4.8" text-anchor="end" fill="#3a3a3a">0.4</text><line x1="209.60" y1="233.40" x2="211.20" y2="233.40" stroke="#555" stroke-width="0.6"/><text x="208.60" y="235.10" font-size="4.8" text-anchor="end" fill="#3a3a3a">0.3</text><line x1="209.60" y1="241.90" x2="211.20" y2="241.90" stroke="#555" stroke-width="0.6"/><text x="208.60" y="243.60" font-size="4.8" text-anchor="end" fill="#3a3a3a">0.2</text><line x1="209.60" y1="250.40" x2="211.20" y2="250.40" stroke="#555" stroke-width="0.6"/><text x="208.60" y="252.10" font-size="4.8" text-anchor="end" fill="#3a3a3a">0.1</text><line x1="209.60" y1="258.90" x2="211.20" y2="258.90" stroke="#555" stroke-width="0.6"/><text x="208.60" y="260.60" font-size="4.8" text-anchor="end" fill="#3a3a3a">0.0</text><line x1="209.60" y1="291.90" x2="211.20" y2="291.90" stroke="#555" stroke-width="0.6"/><text x="208.60" y="293.60" font-size="4.8" text-anchor="end" fill="#3a3a3a">10</text><line x1="209.60" y1="299.50" x2="211.20" y2="299.50" stroke="#555" stroke-width="0.6"/><text x="208.60" y="301.20" font-size="4.8" text-anchor="end" fill="#3a3a3a">5</text><line x1="209.60" y1="307.10" x2="211.20" y2="307.10" stroke="#555" stroke-width="0.6"/><text x="208.60" y="308.80" font-size="4.8" text-anchor="end" fill="#3a3a3a">0</text><line x1="209.60" y1="314.70" x2="211.20" y2="314.70" stroke="#555" stroke-width="0.6"/><text x="208.60" y="316.40" font-size="4.8" text-anchor="end" fill="#3a3a3a">−5</text><line x1="209.60" y1="322.30" x2="211.20" y2="322.30" stroke="#555" stroke-width="0.6"/><text x="208.60" y="324.00" font-size="4.8" text-anchor="end" fill="#3a3a3a">−10</text><line x1="211.50" y1="323.50" x2="211.50" y2="324.80" stroke="#555" stroke-width="0.6"/><text x="213.80" y="329.10" font-size="4.8" text-anchor="end" fill="#555" transform="rotate(-45 213.80 329.10)">0</text><line x1="225.00" y1="323.50" x2="225.00" y2="324.80" stroke="#555" stroke-width="0.6"/><text x="227.30" y="329.10" font-size="4.8" text-anchor="end" fill="#555" transform="rotate(-45 227.30 329.10)">2,000</text><line x1="238.50" y1="323.50" x2="238.50" y2="324.80" stroke="#555" stroke-width="0.6"/><text x="240.80" y="329.10" font-size="4.8" text-anchor="end" fill="#555" transform="rotate(-45 240.80 329.10)">4,000</text><line x1="252.00" y1="323.50" x2="252.00" y2="324.80" stroke="#555" stroke-width="0.6"/><text x="254.30" y="329.10" font-size="4.8" text-anchor="end" fill="#555" transform="rotate(-45 254.30 329.10)">6,000</text><line x1="265.50" y1="323.50" x2="265.50" y2="324.80" stroke="#555" stroke-width="0.6"/><text x="267.80" y="329.10" font-size="4.8" text-anchor="end" fill="#555" transform="rotate(-45 267.80 329.10)">8,000</text><line x1="279.00" y1="323.50" x2="279.00" y2="324.80" stroke="#555" stroke-width="0.6"/><text x="281.30" y="329.10" font-size="4.8" text-anchor="end" fill="#555" transform="rotate(-45 281.30 329.10)">10,000</text><line x1="292.50" y1="323.50" x2="292.50" y2="324.80" stroke="#555" stroke-width="0.6"/><text x="294.80" y="329.10" font-size="4.8" text-anchor="end" fill="#555" transform="rotate(-45 294.80 329.10)">12,000</text><line x1="306.00" y1="323.50" x2="306.00" y2="324.80" stroke="#555" stroke-width="0.6"/><text x="308.30" y="329.10" font-size="4.8" text-anchor="end" fill="#555" transform="rotate(-45 308.30 329.10)">14,000</text><line x1="319.50" y1="323.50" x2="319.50" y2="324.80" stroke="#555" stroke-width="0.6"/><text x="321.80" y="329.10" font-size="4.8" text-anchor="end" fill="#555" transform="rotate(-45 321.80 329.10)">16,000</text><line x1="333.00" y1="323.50" x2="333.00" y2="324.80" stroke="#555" stroke-width="0.6"/><text x="335.30" y="329.10" font-size="4.8" text-anchor="end" fill="#555" transform="rotate(-45 335.30 329.10)">18,000</text><text x="274.20" y="345.40" font-size="7.0" text-anchor="middle" font-weight="bold" fill="#222" textLength="56.30" lengthAdjust="spacingAndGlyphs">Rank in ordered dataset</text><text x="194.80" y="237.40" font-size="6.8" text-anchor="middle" fill="#1a1a1a" textLength="55.00" lengthAdjust="spacingAndGlyphs" transform="rotate(-90 194.80 237.40)" stroke="#1a1a1a" stroke-width="0.25">Enrichment score (ES)</text><text x="188.40" y="306.80" font-size="6.8" text-anchor="middle" fill="#1a1a1a" textLength="47.00" lengthAdjust="spacingAndGlyphs" transform="rotate(-90 188.40 306.80)" stroke="#1a1a1a" stroke-width="0.25">Ranked  list metric</text><text x="196.00" y="307.30" font-size="6.8" text-anchor="middle" fill="#1a1a1a" textLength="60.40" lengthAdjust="spacingAndGlyphs" transform="rotate(-90 196.00 307.30)" stroke="#1a1a1a" stroke-width="0.25">(log2_Ratio_of_Classes)</text><text x="274.20" y="356.90" font-size="7.6" text-anchor="middle" fill="#111" textLength="32.00" lengthAdjust="spacingAndGlyphs">Up in WT</text><text x="351.70" y="201.10" font-size="12" font-weight="bold" fill="#111">F</text><text x="432.50" y="206.50" font-size="7.5" text-anchor="middle" fill="#151515" textLength="90.00" lengthAdjust="spacingAndGlyphs">HALLMARK_GLYCOLYSIS</text><rect x="352.00" y="209.60" width="161.30" height="138.80" fill="none" stroke="#5a5a5a" stroke-width="0.9"/><line x1="383.40" y1="222.10" x2="508.90" y2="222.10" stroke="#d8d8d8" stroke-width="0.7"/><rect x="386.90" y="265.70" width="2.60" height="17.80" fill="rgb(128,128,128)" stroke="none" stroke-width="1"/><rect x="393.90" y="265.70" width="2.00" height="17.80" fill="rgb(89,89,89)" stroke="none" stroke-width="1"/><rect x="397.80" y="265.70" width="1.10" height="17.80" fill="rgb(128,128,128)" stroke="none" stroke-width="1"/><rect x="401.60" y="265.70" width="3.10" height="17.80" fill="rgb(89,89,89)" stroke="none" stroke-width="1"/><rect x="407.90" y="265.70" width="2.60" height="17.80" fill="rgb(128,128,128)" stroke="none" stroke-width="1"/><rect x="412.90" y="265.70" width="3.30" height="17.80" fill="rgb(89,89,89)" stroke="none" stroke-width="1"/><rect x="417.90" y="265.70" width="2.00" height="17.80" fill="rgb(128,128,128)" stroke="none" stroke-width="1"/><rect x="421.20" y="265.70" width="1.30" height="17.80" fill="rgb(51,51,51)" stroke="none" stroke-width="1"/><rect x="425.70" y="265.70" width="4.40" height="17.80" fill="rgb(115,115,115)" stroke="none" stroke-width="1"/><rect x="431.40" y="265.70" width="1.30" height="17.80" fill="rgb(128,128,128)" stroke="none" stroke-width="1"/><rect x="437.70" y="265.70" width="3.80" height="17.80" fill="rgb(115,115,115)" stroke="none" stroke-width="1"/><rect x="442.90" y="265.70" width="2.50" height="17.80" fill="rgb(76,76,76)" stroke="none" stroke-width="1"/><rect x="446.50" y="265.70" width="5.10" height="17.80" fill="rgb(102,102,102)" stroke="none" stroke-width="1"/><rect x="453.50" y="265.70" width="5.10" height="17.80" fill="rgb(128,128,128)" stroke="none" stroke-width="1"/><rect x="459.90" y="265.70" width="1.90" height="17.80" fill="rgb(64,64,64)" stroke="none" stroke-width="1"/><rect x="462.90" y="265.70" width="8.40" height="17.80" fill="rgb(102,102,102)" stroke="none" stroke-width="1"/><rect x="474.50" y="265.70" width="4.40" height="17.80" fill="rgb(26,26,26)" stroke="none" stroke-width="1"/><rect x="479.50" y="265.70" width="1.90" height="17.80" fill="rgb(64,64,64)" stroke="none" stroke-width="1"/><rect x="482.70" y="265.70" width="5.10" height="17.80" fill="rgb(26,26,26)" stroke="none" stroke-width="1"/><rect x="489.70" y="265.70" width="1.90" height="17.80" fill="rgb(64,64,64)" stroke="none" stroke-width="1"/><rect x="492.90" y="265.70" width="3.00" height="17.80" fill="rgb(128,128,128)" stroke="none" stroke-width="1"/><rect x="497.90" y="265.70" width="3.20" height="17.80" fill="rgb(89,89,89)" stroke="none" stroke-width="1"/><rect x="384.20" y="283.60" width="52.10" height="4.30" fill="#f3c3da" stroke="none" stroke-width="1"/><rect x="436.30" y="283.60" width="67.10" height="4.30" fill="#46198c" stroke="none" stroke-width="1"/><polygon points="383.9,307.1 383.9,288.4 385.2,293.2 386.7,297.7 389.2,301.0 394.2,303.4 404.2,305.4 416.2,306.5 425.4,306.9 425.4,307.1" fill="#c8c8c8"/><polygon points="443.4,307.1 489.4,307.9 495.4,309.1 499.4,311.1 501.4,314.6 502.4,318.1 503.1,322.6 503.4,322.6 503.4,307.1" fill="#c8c8c8"/><line x1="383.40" y1="307.10" x2="503.40" y2="307.10" stroke="#bdbdbd" stroke-width="0.6"/><rect x="386.70" y="288.50" width="60.00" height="14.70" rx="3.2" fill="#fff"/><text x="389.20" y="291.50" font-size="3.2" fill="#e05a6a" textLength="29.50" lengthAdjust="spacingAndGlyphs">positively correlated</text><text x="424.60" y="306.40" font-size="3.0" fill="#555" textLength="26.50" lengthAdjust="spacingAndGlyphs">Zero cross at 7926</text><text x="446.40" y="321.80" font-size="3.2" fill="#6070c8" textLength="36.00" lengthAdjust="spacingAndGlyphs">negatively correlated</text><text x="393.90" y="300.20" font-size="7.8" fill="#222" textLength="40.00" lengthAdjust="spacingAndGlyphs">NES: −1.46</text><text x="394.10" y="317.70" font-size="7.6" fill="#222" textLength="63.60" lengthAdjust="spacingAndGlyphs">FDR q-value: 0.004</text><rect x="383.40" y="212.60" width="126.00" height="110.90" fill="none" stroke="#555" stroke-width="0.85"/><line x1="383.40" y1="265.40" x2="509.40" y2="265.40" stroke="#e4e4e4" stroke-width="0.5"/><polyline points="383.5,222.4 386.3,224.8 389.0,218.1 391.0,220.1 393.1,218.1 394.4,219.4 396.4,216.1 398.5,214.7 401.2,216.1 403.2,216.7 405.2,215.8 407.9,217.7 415.0,220.5 424.6,227.2 434.2,236.8 443.8,245.5 453.5,252.6 463.1,257.6 470.8,260.3 475.0,262.8 478.5,259.5 481.3,258.4 484.2,257.0 488.1,253.2 491.0,248.4 492.9,245.5 494.8,244.5 495.8,241.7 497.7,242.6 499.6,234.9 500.6,227.2 501.2,219.5 503.5,221.8" fill="none" stroke="#62a030" stroke-width="1.05" stroke-linejoin="round"/><line x1="381.80" y1="216.70" x2="383.40" y2="216.70" stroke="#555" stroke-width="0.6"/><text x="380.80" y="218.40" font-size="4.8" text-anchor="end" fill="#3a3a3a">0.05</text><line x1="381.80" y1="222.30" x2="383.40" y2="222.30" stroke="#555" stroke-width="0.6"/><text x="380.80" y="224.00" font-size="4.8" text-anchor="end" fill="#3a3a3a">0.00</text><line x1="381.80" y1="227.90" x2="383.40" y2="227.90" stroke="#555" stroke-width="0.6"/><text x="380.80" y="229.60" font-size="4.8" text-anchor="end" fill="#3a3a3a">−0.05</text><line x1="381.80" y1="233.50" x2="383.40" y2="233.50" stroke="#555" stroke-width="0.6"/><text x="380.80" y="235.20" font-size="4.8" text-anchor="end" fill="#3a3a3a">−0.10</text><line x1="381.80" y1="239.10" x2="383.40" y2="239.10" stroke="#555" stroke-width="0.6"/><text x="380.80" y="240.80" font-size="4.8" text-anchor="end" fill="#3a3a3a">−0.15</text><line x1="381.80" y1="244.70" x2="383.40" y2="244.70" stroke="#555" stroke-width="0.6"/><text x="380.80" y="246.40" font-size="4.8" text-anchor="end" fill="#3a3a3a">−0.20</text><line x1="381.80" y1="250.30" x2="383.40" y2="250.30" stroke="#555" stroke-width="0.6"/><text x="380.80" y="252.00" font-size="4.8" text-anchor="end" fill="#3a3a3a">−0.25</text><line x1="381.80" y1="255.90" x2="383.40" y2="255.90" stroke="#555" stroke-width="0.6"/><text x="380.80" y="257.60" font-size="4.8" text-anchor="end" fill="#3a3a3a">−0.30</text><line x1="381.80" y1="261.50" x2="383.40" y2="261.50" stroke="#555" stroke-width="0.6"/><text x="380.80" y="263.20" font-size="4.8" text-anchor="end" fill="#3a3a3a">−0.35</text><line x1="381.80" y1="291.90" x2="383.40" y2="291.90" stroke="#555" stroke-width="0.6"/><text x="380.80" y="293.60" font-size="4.8" text-anchor="end" fill="#3a3a3a">10</text><line x1="381.80" y1="299.50" x2="383.40" y2="299.50" stroke="#555" stroke-width="0.6"/><text x="380.80" y="301.20" font-size="4.8" text-anchor="end" fill="#3a3a3a">5</text><line x1="381.80" y1="307.10" x2="383.40" y2="307.10" stroke="#555" stroke-width="0.6"/><text x="380.80" y="308.80" font-size="4.8" text-anchor="end" fill="#3a3a3a">0</text><line x1="381.80" y1="314.70" x2="383.40" y2="314.70" stroke="#555" stroke-width="0.6"/><text x="380.80" y="316.40" font-size="4.8" text-anchor="end" fill="#3a3a3a">−5</text><line x1="381.80" y1="322.30" x2="383.40" y2="322.30" stroke="#555" stroke-width="0.6"/><text x="380.80" y="324.00" font-size="4.8" text-anchor="end" fill="#3a3a3a">−10</text><line x1="383.70" y1="323.50" x2="383.70" y2="324.80" stroke="#555" stroke-width="0.6"/><text x="386.00" y="329.10" font-size="4.8" text-anchor="end" fill="#555" transform="rotate(-45 386.00 329.10)">0</text><line x1="397.20" y1="323.50" x2="397.20" y2="324.80" stroke="#555" stroke-width="0.6"/><text x="399.50" y="329.10" font-size="4.8" text-anchor="end" fill="#555" transform="rotate(-45 399.50 329.10)">2,000</text><line x1="410.70" y1="323.50" x2="410.70" y2="324.80" stroke="#555" stroke-width="0.6"/><text x="413.00" y="329.10" font-size="4.8" text-anchor="end" fill="#555" transform="rotate(-45 413.00 329.10)">4,000</text><line x1="424.20" y1="323.50" x2="424.20" y2="324.80" stroke="#555" stroke-width="0.6"/><text x="426.50" y="329.10" font-size="4.8" text-anchor="end" fill="#555" transform="rotate(-45 426.50 329.10)">6,000</text><line x1="437.70" y1="323.50" x2="437.70" y2="324.80" stroke="#555" stroke-width="0.6"/><text x="440.00" y="329.10" font-size="4.8" text-anchor="end" fill="#555" transform="rotate(-45 440.00 329.10)">8,000</text><line x1="451.20" y1="323.50" x2="451.20" y2="324.80" stroke="#555" stroke-width="0.6"/><text x="453.50" y="329.10" font-size="4.8" text-anchor="end" fill="#555" transform="rotate(-45 453.50 329.10)">10,000</text><line x1="464.70" y1="323.50" x2="464.70" y2="324.80" stroke="#555" stroke-width="0.6"/><text x="467.00" y="329.10" font-size="4.8" text-anchor="end" fill="#555" transform="rotate(-45 467.00 329.10)">12,000</text><line x1="478.20" y1="323.50" x2="478.20" y2="324.80" stroke="#555" stroke-width="0.6"/><text x="480.50" y="329.10" font-size="4.8" text-anchor="end" fill="#555" transform="rotate(-45 480.50 329.10)">14,000</text><line x1="491.70" y1="323.50" x2="491.70" y2="324.80" stroke="#555" stroke-width="0.6"/><text x="494.00" y="329.10" font-size="4.8" text-anchor="end" fill="#555" transform="rotate(-45 494.00 329.10)">16,000</text><line x1="505.20" y1="323.50" x2="505.20" y2="324.80" stroke="#555" stroke-width="0.6"/><text x="507.50" y="329.10" font-size="4.8" text-anchor="end" fill="#555" transform="rotate(-45 507.50 329.10)">18,000</text><text x="446.40" y="345.40" font-size="7.0" text-anchor="middle" font-weight="bold" fill="#222" textLength="56.30" lengthAdjust="spacingAndGlyphs">Rank in ordered dataset</text><text x="365.15" y="239.45" font-size="6.8" text-anchor="middle" fill="#1a1a1a" textLength="55.00" lengthAdjust="spacingAndGlyphs" transform="rotate(-90 365.15 239.45)" stroke="#1a1a1a" stroke-width="0.25">Enrichment score (ES)</text><text x="360.60" y="306.80" font-size="6.8" text-anchor="middle" fill="#1a1a1a" textLength="47.00" lengthAdjust="spacingAndGlyphs" transform="rotate(-90 360.60 306.80)" stroke="#1a1a1a" stroke-width="0.25">Ranked  list metric</text><text x="368.20" y="307.30" font-size="6.8" text-anchor="middle" fill="#1a1a1a" textLength="60.40" lengthAdjust="spacingAndGlyphs" transform="rotate(-90 368.20 307.30)" stroke="#1a1a1a" stroke-width="0.25">(log2_Ratio_of_Classes)</text><text x="446.40" y="356.90" font-size="7.4" text-anchor="middle" fill="#111" textLength="57.3" lengthAdjust="spacingAndGlyphs">Down in <tspan font-style="italic">Tifab</tspan> KO</text><rect x="47.60" y="430.45" width="20.30" height="66.55" fill="#a6d49c" stroke="none" stroke-width="1"/><rect x="78.30" y="495.19" width="20.30" height="1.81" fill="#f9c795" stroke="none" stroke-width="1"/><line x1="57.75" y1="413.80" x2="57.75" y2="448.00" stroke="#2e9d3c" stroke-width="0.8"/><line x1="55.75" y1="413.80" x2="59.75" y2="413.80" stroke="#2e9d3c" stroke-width="0.8"/><line x1="55.75" y1="448.00" x2="59.75" y2="448.00" stroke="#2e9d3c" stroke-width="0.8"/><circle cx="57.90" cy="413.80" r="2.9" fill="#2e9d3c"/><circle cx="57.90" cy="431.20" r="2.9" fill="#2e9d3c"/><circle cx="57.90" cy="448.00" r="2.9" fill="#2e9d3c"/><line x1="88.45" y1="490.20" x2="88.45" y2="496.50" stroke="#f0921c" stroke-width="0.8"/><line x1="86.45" y1="490.20" x2="90.45" y2="490.20" stroke="#f0921c" stroke-width="0.8"/><line x1="86.45" y1="496.50" x2="90.45" y2="496.50" stroke="#f0921c" stroke-width="0.8"/><circle cx="82.50" cy="490.20" r="2.9" fill="#f0921c"/><circle cx="88.30" cy="496.50" r="2.9" fill="#f0921c"/><circle cx="94.00" cy="493.50" r="2.9" fill="#f0921c"/><line x1="36.80" y1="386.50" x2="36.80" y2="497.50" stroke="#222" stroke-width="1.0"/><line x1="36.30" y1="497.00" x2="108.80" y2="497.00" stroke="#222" stroke-width="1.0"/><line x1="34.20" y1="497.00" x2="36.80" y2="497.00" stroke="#222" stroke-width="0.9"/><text x="30.80" y="500.10" font-size="8.6" text-anchor="end" fill="#222">0</text><line x1="34.20" y1="460.83" x2="36.80" y2="460.83" stroke="#222" stroke-width="0.9"/><text x="30.80" y="463.93" font-size="8.6" text-anchor="end" fill="#222">5</text><line x1="34.20" y1="424.67" x2="36.80" y2="424.67" stroke="#222" stroke-width="0.9"/><text x="30.80" y="427.77" font-size="8.6" text-anchor="end" fill="#222">10</text><line x1="34.20" y1="388.50" x2="36.80" y2="388.50" stroke="#222" stroke-width="0.9"/><text x="30.80" y="391.60" font-size="8.6" text-anchor="end" fill="#222">15</text><line x1="57.75" y1="497.00" x2="57.75" y2="500.00" stroke="#222" stroke-width="0.9"/><line x1="88.45" y1="497.00" x2="88.45" y2="500.00" stroke="#222" stroke-width="0.9"/><text x="60.45" y="506.10" font-size="8.0" text-anchor="end" fill="#222" transform="rotate(-45 60.45 506.10)">WT</text><text x="91.15" y="506.10" font-size="8.0" text-anchor="end" fill="#222" transform="rotate(-45 91.15 506.10)"><tspan font-style="italic">Tifab</tspan> KO</text><circle cx="88.20" cy="479.20" r="1.0" fill="#111"/><text x="73.30" y="380.20" font-size="9.5" text-anchor="middle" font-style="italic" fill="#222">G6pc</text><text x="13.00" y="442.45" font-size="8.0" text-anchor="middle" fill="#111" stroke="#111" stroke-width="0.2" textLength="61.0" lengthAdjust="spacingAndGlyphs" transform="rotate(-90 13.00 442.45)" dominant-baseline="middle">Relative expression</text><rect x="154.60" y="417.43" width="20.30" height="79.57" fill="#a6d49c" stroke="none" stroke-width="1"/><rect x="185.30" y="476.02" width="20.30" height="20.98" fill="#f9c795" stroke="none" stroke-width="1"/><line x1="164.75" y1="407.50" x2="164.75" y2="426.70" stroke="#2e9d3c" stroke-width="0.8"/><line x1="162.75" y1="407.50" x2="166.75" y2="407.50" stroke="#2e9d3c" stroke-width="0.8"/><line x1="162.75" y1="426.70" x2="166.75" y2="426.70" stroke="#2e9d3c" stroke-width="0.8"/><circle cx="164.70" cy="407.50" r="2.9" fill="#2e9d3c"/><circle cx="169.30" cy="416.60" r="2.9" fill="#2e9d3c"/><circle cx="159.70" cy="426.70" r="2.9" fill="#2e9d3c"/><line x1="195.45" y1="463.40" x2="195.45" y2="487.40" stroke="#f0921c" stroke-width="0.8"/><line x1="193.45" y1="463.40" x2="197.45" y2="463.40" stroke="#f0921c" stroke-width="0.8"/><line x1="193.45" y1="487.40" x2="197.45" y2="487.40" stroke="#f0921c" stroke-width="0.8"/><circle cx="195.20" cy="463.40" r="2.9" fill="#f0921c"/><circle cx="195.20" cy="475.40" r="2.9" fill="#f0921c"/><circle cx="195.20" cy="487.40" r="2.9" fill="#f0921c"/><line x1="143.80" y1="386.50" x2="143.80" y2="497.50" stroke="#222" stroke-width="1.0"/><line x1="143.30" y1="497.00" x2="215.60" y2="497.00" stroke="#222" stroke-width="1.0"/><line x1="141.20" y1="497.00" x2="143.80" y2="497.00" stroke="#222" stroke-width="0.9"/><text x="137.80" y="500.10" font-size="8.6" text-anchor="end" fill="#222">0</text><line x1="141.20" y1="460.83" x2="143.80" y2="460.83" stroke="#222" stroke-width="0.9"/><text x="137.80" y="463.93" font-size="8.6" text-anchor="end" fill="#222">1</text><line x1="141.20" y1="424.67" x2="143.80" y2="424.67" stroke="#222" stroke-width="0.9"/><text x="137.80" y="427.77" font-size="8.6" text-anchor="end" fill="#222">2</text><line x1="141.20" y1="388.50" x2="143.80" y2="388.50" stroke="#222" stroke-width="0.9"/><text x="137.80" y="391.60" font-size="8.6" text-anchor="end" fill="#222">3</text><line x1="164.75" y1="497.00" x2="164.75" y2="500.00" stroke="#222" stroke-width="0.9"/><line x1="195.45" y1="497.00" x2="195.45" y2="500.00" stroke="#222" stroke-width="0.9"/><text x="167.45" y="506.10" font-size="8.0" text-anchor="end" fill="#222" transform="rotate(-45 167.45 506.10)">WT</text><text x="198.15" y="506.10" font-size="8.0" text-anchor="end" fill="#222" transform="rotate(-45 198.15 506.10)"><tspan font-style="italic">Tifab</tspan> KO</text><circle cx="195.20" cy="451.90" r="1.0" fill="#111"/><text x="180.30" y="380.20" font-size="9.5" text-anchor="middle" font-style="italic" fill="#222">Pklr</text><text x="124.30" y="442.45" font-size="8.0" text-anchor="middle" fill="#111" stroke="#111" stroke-width="0.2" textLength="61.0" lengthAdjust="spacingAndGlyphs" transform="rotate(-90 124.30 442.45)" dominant-baseline="middle">Relative expression</text><rect x="261.60" y="401.16" width="20.30" height="95.84" fill="#a6d49c" stroke="none" stroke-width="1"/><rect x="292.30" y="457.22" width="20.30" height="39.78" fill="#f9c795" stroke="none" stroke-width="1"/><line x1="271.75" y1="395.70" x2="271.75" y2="407.00" stroke="#2e9d3c" stroke-width="0.8"/><line x1="269.75" y1="395.70" x2="273.75" y2="395.70" stroke="#2e9d3c" stroke-width="0.8"/><line x1="269.75" y1="407.00" x2="273.75" y2="407.00" stroke="#2e9d3c" stroke-width="0.8"/><circle cx="270.90" cy="395.70" r="2.9" fill="#2e9d3c"/><circle cx="275.90" cy="401.50" r="2.9" fill="#2e9d3c"/><circle cx="266.30" cy="407.00" r="2.9" fill="#2e9d3c"/><line x1="302.45" y1="457.00" x2="302.45" y2="458.60" stroke="#f0921c" stroke-width="0.8"/><line x1="300.45" y1="457.00" x2="304.45" y2="457.00" stroke="#f0921c" stroke-width="0.8"/><line x1="300.45" y1="458.60" x2="304.45" y2="458.60" stroke="#f0921c" stroke-width="0.8"/><circle cx="296.30" cy="457.00" r="2.9" fill="#f0921c"/><circle cx="302.00" cy="458.60" r="2.9" fill="#f0921c"/><circle cx="307.60" cy="457.40" r="2.9" fill="#f0921c"/><line x1="250.80" y1="386.50" x2="250.80" y2="497.50" stroke="#222" stroke-width="1.0"/><line x1="250.30" y1="497.00" x2="322.60" y2="497.00" stroke="#222" stroke-width="1.0"/><line x1="248.20" y1="497.00" x2="250.80" y2="497.00" stroke="#222" stroke-width="0.9"/><text x="244.80" y="500.10" font-size="8.6" text-anchor="end" fill="#222">0</text><line x1="248.20" y1="460.83" x2="250.80" y2="460.83" stroke="#222" stroke-width="0.9"/><text x="244.80" y="463.93" font-size="8.6" text-anchor="end" fill="#222">2</text><line x1="248.20" y1="424.67" x2="250.80" y2="424.67" stroke="#222" stroke-width="0.9"/><text x="244.80" y="427.77" font-size="8.6" text-anchor="end" fill="#222">4</text><line x1="248.20" y1="388.50" x2="250.80" y2="388.50" stroke="#222" stroke-width="0.9"/><text x="244.80" y="391.60" font-size="8.6" text-anchor="end" fill="#222">6</text><line x1="271.75" y1="497.00" x2="271.75" y2="500.00" stroke="#222" stroke-width="0.9"/><line x1="302.45" y1="497.00" x2="302.45" y2="500.00" stroke="#222" stroke-width="0.9"/><text x="274.45" y="506.10" font-size="8.0" text-anchor="end" fill="#222" transform="rotate(-45 274.45 506.10)">WT</text><text x="305.15" y="506.10" font-size="8.0" text-anchor="end" fill="#222" transform="rotate(-45 305.15 506.10)"><tspan font-style="italic">Tifab</tspan> KO</text><circle cx="302.00" cy="448.50" r="1.0" fill="#111"/><text x="287.30" y="380.20" font-size="9.5" text-anchor="middle" font-style="italic" fill="#222">Pfkm</text><text x="231.00" y="442.45" font-size="8.0" text-anchor="middle" fill="#111" stroke="#111" stroke-width="0.2" textLength="61.0" lengthAdjust="spacingAndGlyphs" transform="rotate(-90 231.00 442.45)" dominant-baseline="middle">Relative expression</text><rect x="48.10" y="591.33" width="20.30" height="73.37" fill="#a6d49c" stroke="none" stroke-width="1"/><rect x="78.80" y="632.09" width="20.30" height="32.61" fill="#f9c795" stroke="none" stroke-width="1"/><line x1="58.25" y1="581.80" x2="58.25" y2="602.50" stroke="#2e9d3c" stroke-width="0.8"/><line x1="56.25" y1="581.80" x2="60.25" y2="581.80" stroke="#2e9d3c" stroke-width="0.8"/><line x1="56.25" y1="602.50" x2="60.25" y2="602.50" stroke="#2e9d3c" stroke-width="0.8"/><circle cx="58.10" cy="581.80" r="2.9" fill="#2e9d3c"/><circle cx="58.10" cy="591.90" r="2.9" fill="#2e9d3c"/><circle cx="58.10" cy="602.50" r="2.9" fill="#2e9d3c"/><line x1="88.95" y1="632.00" x2="88.95" y2="632.00" stroke="#f0921c" stroke-width="0.8"/><line x1="86.95" y1="632.00" x2="90.95" y2="632.00" stroke="#f0921c" stroke-width="0.8"/><line x1="86.95" y1="632.00" x2="90.95" y2="632.00" stroke="#f0921c" stroke-width="0.8"/><circle cx="82.10" cy="632.00" r="2.9" fill="#f0921c"/><circle cx="88.40" cy="632.00" r="2.9" fill="#f0921c"/><circle cx="94.00" cy="632.00" r="2.9" fill="#f0921c"/><line x1="37.30" y1="554.00" x2="37.30" y2="665.20" stroke="#222" stroke-width="1.0"/><line x1="36.80" y1="664.70" x2="109.10" y2="664.70" stroke="#222" stroke-width="1.0"/><line x1="34.70" y1="664.70" x2="37.30" y2="664.70" stroke="#222" stroke-width="0.9"/><text x="31.30" y="667.80" font-size="8.6" text-anchor="end" fill="#222">0</text><line x1="34.70" y1="637.53" x2="37.30" y2="637.53" stroke="#222" stroke-width="0.9"/><text x="31.30" y="640.63" font-size="8.6" text-anchor="end" fill="#222">1</text><line x1="34.70" y1="610.35" x2="37.30" y2="610.35" stroke="#222" stroke-width="0.9"/><text x="31.30" y="613.45" font-size="8.6" text-anchor="end" fill="#222">2</text><line x1="34.70" y1="583.17" x2="37.30" y2="583.17" stroke="#222" stroke-width="0.9"/><text x="31.30" y="586.27" font-size="8.6" text-anchor="end" fill="#222">3</text><line x1="34.70" y1="556.00" x2="37.30" y2="556.00" stroke="#222" stroke-width="0.9"/><text x="31.30" y="559.10" font-size="8.6" text-anchor="end" fill="#222">4</text><line x1="58.25" y1="664.70" x2="58.25" y2="667.70" stroke="#222" stroke-width="0.9"/><line x1="88.95" y1="664.70" x2="88.95" y2="667.70" stroke="#222" stroke-width="0.9"/><text x="60.95" y="673.80" font-size="8.0" text-anchor="end" fill="#222" transform="rotate(-45 60.95 673.80)">WT</text><text x="91.65" y="673.80" font-size="8.0" text-anchor="end" fill="#222" transform="rotate(-45 91.65 673.80)"><tspan font-style="italic">Tifab</tspan> KO</text><circle cx="88.40" cy="621.00" r="1.0" fill="#111"/><text x="73.80" y="547.70" font-size="9.5" text-anchor="middle" font-style="italic" fill="#222">Eno1</text><text x="17.20" y="610.05" font-size="8.0" text-anchor="middle" fill="#111" stroke="#111" stroke-width="0.2" textLength="61.0" lengthAdjust="spacingAndGlyphs" transform="rotate(-90 17.20 610.05)" dominant-baseline="middle">Relative expression</text><rect x="154.90" y="584.26" width="20.30" height="80.44" fill="#a6d49c" stroke="none" stroke-width="1"/><rect x="185.60" y="623.39" width="20.30" height="41.31" fill="#f9c795" stroke="none" stroke-width="1"/><line x1="165.05" y1="582.30" x2="165.05" y2="588.10" stroke="#2e9d3c" stroke-width="0.8"/><line x1="163.05" y1="582.30" x2="167.05" y2="582.30" stroke="#2e9d3c" stroke-width="0.8"/><line x1="163.05" y1="588.10" x2="167.05" y2="588.10" stroke="#2e9d3c" stroke-width="0.8"/><circle cx="159.80" cy="582.30" r="2.9" fill="#2e9d3c"/><circle cx="165.10" cy="588.10" r="2.9" fill="#2e9d3c"/><circle cx="170.10" cy="584.30" r="2.9" fill="#2e9d3c"/><line x1="195.75" y1="624.50" x2="195.75" y2="624.50" stroke="#f0921c" stroke-width="0.8"/><line x1="193.75" y1="624.50" x2="197.75" y2="624.50" stroke="#f0921c" stroke-width="0.8"/><line x1="193.75" y1="624.50" x2="197.75" y2="624.50" stroke="#f0921c" stroke-width="0.8"/><circle cx="190.30" cy="624.50" r="2.9" fill="#f0921c"/><circle cx="195.40" cy="624.50" r="2.9" fill="#f0921c"/><circle cx="200.40" cy="624.50" r="2.9" fill="#f0921c"/><line x1="144.10" y1="554.00" x2="144.10" y2="665.20" stroke="#222" stroke-width="1.0"/><line x1="143.60" y1="664.70" x2="215.90" y2="664.70" stroke="#222" stroke-width="1.0"/><line x1="141.50" y1="664.70" x2="144.10" y2="664.70" stroke="#222" stroke-width="0.9"/><text x="138.10" y="667.80" font-size="8.6" text-anchor="end" fill="#222">0</text><line x1="141.50" y1="642.96" x2="144.10" y2="642.96" stroke="#222" stroke-width="0.9"/><text x="138.10" y="646.06" font-size="8.6" text-anchor="end" fill="#222">1</text><line x1="141.50" y1="621.22" x2="144.10" y2="621.22" stroke="#222" stroke-width="0.9"/><text x="138.10" y="624.32" font-size="8.6" text-anchor="end" fill="#222">2</text><line x1="141.50" y1="599.48" x2="144.10" y2="599.48" stroke="#222" stroke-width="0.9"/><text x="138.10" y="602.58" font-size="8.6" text-anchor="end" fill="#222">3</text><line x1="141.50" y1="577.74" x2="144.10" y2="577.74" stroke="#222" stroke-width="0.9"/><text x="138.10" y="580.84" font-size="8.6" text-anchor="end" fill="#222">4</text><line x1="141.50" y1="556.00" x2="144.10" y2="556.00" stroke="#222" stroke-width="0.9"/><text x="138.10" y="559.10" font-size="8.6" text-anchor="end" fill="#222">5</text><line x1="165.05" y1="664.70" x2="165.05" y2="667.70" stroke="#222" stroke-width="0.9"/><line x1="195.75" y1="664.70" x2="195.75" y2="667.70" stroke="#222" stroke-width="0.9"/><text x="167.75" y="673.80" font-size="8.0" text-anchor="end" fill="#222" transform="rotate(-45 167.75 673.80)">WT</text><text x="198.45" y="673.80" font-size="8.0" text-anchor="end" fill="#222" transform="rotate(-45 198.45 673.80)"><tspan font-style="italic">Tifab</tspan> KO</text><circle cx="195.40" cy="613.40" r="1.0" fill="#111"/><text x="180.60" y="547.70" font-size="9.5" text-anchor="middle" font-style="italic" fill="#222">Pfkl</text><text x="124.00" y="610.05" font-size="8.0" text-anchor="middle" fill="#111" stroke="#111" stroke-width="0.2" textLength="61.0" lengthAdjust="spacingAndGlyphs" transform="rotate(-90 124.00 610.05)" dominant-baseline="middle">Relative expression</text><rect x="261.60" y="576.65" width="20.30" height="88.05" fill="#a6d49c" stroke="none" stroke-width="1"/><rect x="292.30" y="603.83" width="20.30" height="60.87" fill="#f9c795" stroke="none" stroke-width="1"/><line x1="271.75" y1="569.70" x2="271.75" y2="585.60" stroke="#2e9d3c" stroke-width="0.8"/><line x1="269.75" y1="569.70" x2="273.75" y2="569.70" stroke="#2e9d3c" stroke-width="0.8"/><line x1="269.75" y1="585.60" x2="273.75" y2="585.60" stroke="#2e9d3c" stroke-width="0.8"/><circle cx="271.30" cy="569.70" r="2.9" fill="#2e9d3c"/><circle cx="276.30" cy="577.50" r="2.9" fill="#2e9d3c"/><circle cx="266.20" cy="585.60" r="2.9" fill="#2e9d3c"/><line x1="302.45" y1="604.50" x2="302.45" y2="604.50" stroke="#f0921c" stroke-width="0.8"/><line x1="300.45" y1="604.50" x2="304.45" y2="604.50" stroke="#f0921c" stroke-width="0.8"/><line x1="300.45" y1="604.50" x2="304.45" y2="604.50" stroke="#f0921c" stroke-width="0.8"/><circle cx="296.60" cy="604.50" r="2.9" fill="#f0921c"/><circle cx="302.10" cy="604.50" r="2.9" fill="#f0921c"/><circle cx="307.70" cy="604.50" r="2.9" fill="#f0921c"/><line x1="250.80" y1="554.00" x2="250.80" y2="665.20" stroke="#222" stroke-width="1.0"/><line x1="250.30" y1="664.70" x2="322.60" y2="664.70" stroke="#222" stroke-width="1.0"/><line x1="248.20" y1="664.70" x2="250.80" y2="664.70" stroke="#222" stroke-width="0.9"/><text x="244.80" y="667.80" font-size="8.6" text-anchor="end" fill="#222">0</text><line x1="248.20" y1="642.96" x2="250.80" y2="642.96" stroke="#222" stroke-width="0.9"/><text x="244.80" y="646.06" font-size="8.6" text-anchor="end" fill="#222">1</text><line x1="248.20" y1="621.22" x2="250.80" y2="621.22" stroke="#222" stroke-width="0.9"/><text x="244.80" y="624.32" font-size="8.6" text-anchor="end" fill="#222">2</text><line x1="248.20" y1="599.48" x2="250.80" y2="599.48" stroke="#222" stroke-width="0.9"/><text x="244.80" y="602.58" font-size="8.6" text-anchor="end" fill="#222">3</text><line x1="248.20" y1="577.74" x2="250.80" y2="577.74" stroke="#222" stroke-width="0.9"/><text x="244.80" y="580.84" font-size="8.6" text-anchor="end" fill="#222">4</text><line x1="248.20" y1="556.00" x2="250.80" y2="556.00" stroke="#222" stroke-width="0.9"/><text x="244.80" y="559.10" font-size="8.6" text-anchor="end" fill="#222">5</text><line x1="271.75" y1="664.70" x2="271.75" y2="667.70" stroke="#222" stroke-width="0.9"/><line x1="302.45" y1="664.70" x2="302.45" y2="667.70" stroke="#222" stroke-width="0.9"/><text x="274.45" y="673.80" font-size="8.0" text-anchor="end" fill="#222" transform="rotate(-45 274.45 673.80)">WT</text><text x="305.15" y="673.80" font-size="8.0" text-anchor="end" fill="#222" transform="rotate(-45 305.15 673.80)"><tspan font-style="italic">Tifab</tspan> KO</text><circle cx="302.10" cy="594.00" r="1.0" fill="#111"/><text x="287.30" y="547.70" font-size="9.5" text-anchor="middle" font-style="italic" fill="#222">Pkm</text><text x="230.60" y="610.05" font-size="8.0" text-anchor="middle" fill="#111" stroke="#111" stroke-width="0.2" textLength="61.0" lengthAdjust="spacingAndGlyphs" transform="rotate(-90 230.60 610.05)" dominant-baseline="middle">Relative expression</text><text x="7.80" y="379.80" font-size="12" font-weight="bold" fill="#111">G</text><text x="350.80" y="380.20" font-size="12" font-weight="bold" fill="#111">H</text><text x="353.60" y="547.60" font-size="12" font-weight="bold" fill="#111">I</text><rect x="394.50" y="409.05" width="20.30" height="87.75" fill="#a6d49c" stroke="none" stroke-width="1"/><rect x="425.20" y="460.89" width="20.30" height="35.91" fill="#f9c795" stroke="none" stroke-width="1"/><circle cx="400.10" cy="400.10" r="2.9" fill="#2e9d3c"/><circle cx="399.50" cy="406.50" r="2.9" fill="#2e9d3c"/><circle cx="409.00" cy="405.20" r="2.9" fill="#2e9d3c"/><circle cx="410.90" cy="407.80" r="2.9" fill="#2e9d3c"/><circle cx="402.00" cy="410.30" r="2.9" fill="#2e9d3c"/><circle cx="407.80" cy="410.90" r="2.9" fill="#2e9d3c"/><circle cx="405.20" cy="413.50" r="2.9" fill="#2e9d3c"/><circle cx="405.90" cy="416.60" r="2.9" fill="#2e9d3c"/><circle cx="410.30" cy="409.00" r="2.9" fill="#2e9d3c"/><line x1="404.65" y1="404.00" x2="404.65" y2="410.50" stroke="#d8ecd2" stroke-width="0.8"/><line x1="402.65" y1="404.00" x2="406.65" y2="404.00" stroke="#d8ecd2" stroke-width="0.8"/><line x1="402.65" y1="410.50" x2="406.65" y2="410.50" stroke="#d8ecd2" stroke-width="0.8"/><circle cx="430.60" cy="447.10" r="2.9" fill="#f0921c"/><circle cx="441.40" cy="445.80" r="2.9" fill="#f0921c"/><circle cx="435.70" cy="454.10" r="2.9" fill="#f0921c"/><circle cx="440.70" cy="464.20" r="2.9" fill="#f0921c"/><circle cx="431.20" cy="467.40" r="2.9" fill="#f0921c"/><circle cx="438.20" cy="470.60" r="2.9" fill="#f0921c"/><circle cx="433.10" cy="473.70" r="2.9" fill="#f0921c"/><line x1="435.35" y1="449.30" x2="435.35" y2="472.60" stroke="#f0921c" stroke-width="0.8"/><line x1="433.35" y1="449.30" x2="437.35" y2="449.30" stroke="#f0921c" stroke-width="0.8"/><line x1="433.35" y1="472.60" x2="437.35" y2="472.60" stroke="#f0921c" stroke-width="0.8"/><line x1="383.70" y1="386.80" x2="383.70" y2="497.30" stroke="#222" stroke-width="1.0"/><line x1="383.20" y1="496.80" x2="455.50" y2="496.80" stroke="#222" stroke-width="1.0"/><line x1="381.10" y1="496.80" x2="383.70" y2="496.80" stroke="#222" stroke-width="0.9"/><text x="377.70" y="499.90" font-size="8.6" text-anchor="end" fill="#222">0</text><line x1="381.10" y1="469.80" x2="383.70" y2="469.80" stroke="#222" stroke-width="0.9"/><text x="377.70" y="472.90" font-size="8.6" text-anchor="end" fill="#222">10</text><line x1="381.10" y1="442.80" x2="383.70" y2="442.80" stroke="#222" stroke-width="0.9"/><text x="377.70" y="445.90" font-size="8.6" text-anchor="end" fill="#222">20</text><line x1="381.10" y1="415.80" x2="383.70" y2="415.80" stroke="#222" stroke-width="0.9"/><text x="377.70" y="418.90" font-size="8.6" text-anchor="end" fill="#222">30</text><line x1="381.10" y1="388.80" x2="383.70" y2="388.80" stroke="#222" stroke-width="0.9"/><text x="377.70" y="391.90" font-size="8.6" text-anchor="end" fill="#222">40</text><line x1="404.65" y1="496.80" x2="404.65" y2="499.80" stroke="#222" stroke-width="0.9"/><line x1="435.35" y1="496.80" x2="435.35" y2="499.80" stroke="#222" stroke-width="0.9"/><text x="407.35" y="505.90" font-size="8.0" text-anchor="end" fill="#222" transform="rotate(-45 407.35 505.90)">WT</text><text x="438.05" y="505.90" font-size="8.0" text-anchor="end" fill="#222" transform="rotate(-45 438.05 505.90)"><tspan font-style="italic">Tifab</tspan> KO</text><circle cx="434.10" cy="437.20" r="1.05" fill="#111"/><circle cx="437.50" cy="437.20" r="1.05" fill="#111"/><text x="360.70" y="442.50" font-size="8.2" text-anchor="middle" fill="#111" stroke="#111" stroke-width="0.2" textLength="59.5" lengthAdjust="spacingAndGlyphs" transform="rotate(-90 360.70 442.50)" dominant-baseline="middle">% of Glucose<tspan baseline-shift="super" font-size="5">+</tspan> cells</text><rect x="394.70" y="630.94" width="20.30" height="33.66" fill="#8a9bc9" stroke="none" stroke-width="1"/><rect x="425.40" y="603.21" width="20.30" height="61.39" fill="#ec8a84" stroke="none" stroke-width="1"/><circle cx="399.80" cy="619.40" r="2.9" fill="#1b4a8a"/><circle cx="410.80" cy="621.70" r="2.9" fill="#1b4a8a"/><circle cx="403.80" cy="623.50" r="2.9" fill="#1b4a8a"/><circle cx="401.00" cy="627.50" r="2.9" fill="#1b4a8a"/><circle cx="409.00" cy="627.50" r="2.9" fill="#1b4a8a"/><circle cx="399.20" cy="629.20" r="2.9" fill="#1b4a8a"/><circle cx="410.20" cy="632.70" r="2.9" fill="#1b4a8a"/><circle cx="405.00" cy="633.30" r="2.9" fill="#1b4a8a"/><circle cx="407.30" cy="636.20" r="2.9" fill="#1b4a8a"/><circle cx="399.80" cy="638.50" r="2.9" fill="#1b4a8a"/><circle cx="402.70" cy="637.90" r="2.9" fill="#1b4a8a"/><circle cx="410.80" cy="644.20" r="2.9" fill="#1b4a8a"/><circle cx="405.00" cy="648.30" r="2.9" fill="#1b4a8a"/><circle cx="402.10" cy="635.00" r="2.9" fill="#1b4a8a"/><line x1="404.85" y1="624.00" x2="404.85" y2="638.50" stroke="#c9d2e8" stroke-width="0.8"/><line x1="402.85" y1="624.00" x2="406.85" y2="624.00" stroke="#c9d2e8" stroke-width="0.8"/><line x1="402.85" y1="638.50" x2="406.85" y2="638.50" stroke="#c9d2e8" stroke-width="0.8"/><circle cx="431.00" cy="583.70" r="2.9" fill="#d21f30"/><circle cx="430.40" cy="592.30" r="2.9" fill="#d21f30"/><circle cx="440.80" cy="591.20" r="2.9" fill="#d21f30"/><circle cx="441.30" cy="595.80" r="2.9" fill="#d21f30"/><circle cx="432.10" cy="598.70" r="2.9" fill="#d21f30"/><circle cx="438.50" cy="599.80" r="2.9" fill="#d21f30"/><circle cx="442.50" cy="602.70" r="2.9" fill="#d21f30"/><circle cx="429.80" cy="605.60" r="2.9" fill="#d21f30"/><circle cx="435.60" cy="603.80" r="2.9" fill="#d21f30"/><circle cx="439.60" cy="608.50" r="2.9" fill="#d21f30"/><circle cx="433.30" cy="610.80" r="2.9" fill="#d21f30"/><circle cx="436.20" cy="612.50" r="2.9" fill="#d21f30"/><circle cx="431.00" cy="624.60" r="2.9" fill="#d21f30"/><circle cx="440.80" cy="621.20" r="2.9" fill="#d21f30"/><line x1="435.55" y1="593.00" x2="435.55" y2="613.50" stroke="#f3c2c0" stroke-width="0.8"/><line x1="433.55" y1="593.00" x2="437.55" y2="593.00" stroke="#f3c2c0" stroke-width="0.8"/><line x1="433.55" y1="613.50" x2="437.55" y2="613.50" stroke="#f3c2c0" stroke-width="0.8"/><line x1="383.90" y1="554.90" x2="383.90" y2="665.10" stroke="#222" stroke-width="1.0"/><line x1="383.40" y1="664.60" x2="455.70" y2="664.60" stroke="#222" stroke-width="1.0"/><line x1="381.30" y1="664.60" x2="383.90" y2="664.60" stroke="#222" stroke-width="0.9"/><text x="377.90" y="667.70" font-size="8.6" text-anchor="end" fill="#222">0</text><line x1="381.30" y1="637.67" x2="383.90" y2="637.67" stroke="#222" stroke-width="0.9"/><text x="377.90" y="640.77" font-size="8.6" text-anchor="end" fill="#222">20</text><line x1="381.30" y1="610.75" x2="383.90" y2="610.75" stroke="#222" stroke-width="0.9"/><text x="377.90" y="613.85" font-size="8.6" text-anchor="end" fill="#222">40</text><line x1="381.30" y1="583.83" x2="383.90" y2="583.83" stroke="#222" stroke-width="0.9"/><text x="377.90" y="586.93" font-size="8.6" text-anchor="end" fill="#222">60</text><line x1="381.30" y1="556.90" x2="383.90" y2="556.90" stroke="#222" stroke-width="0.9"/><text x="377.90" y="560.00" font-size="8.6" text-anchor="end" fill="#222">80</text><line x1="404.85" y1="664.60" x2="404.85" y2="667.60" stroke="#222" stroke-width="0.9"/><line x1="435.55" y1="664.60" x2="435.55" y2="667.60" stroke="#222" stroke-width="0.9"/><text x="407.55" y="673.70" font-size="8.0" text-anchor="end" fill="#222" transform="rotate(-45 407.55 673.70)">Con</text><text x="438.25" y="673.70" font-size="8.0" text-anchor="end" fill="#222" transform="rotate(-45 438.25 673.70)">TIFAB OE</text><circle cx="434.10" cy="573.90" r="1.05" fill="#111"/><circle cx="437.50" cy="573.90" r="1.05" fill="#111"/><text x="360.70" y="610.45" font-size="8.2" text-anchor="middle" fill="#111" stroke="#111" stroke-width="0.2" textLength="59.5" lengthAdjust="spacingAndGlyphs" transform="rotate(-90 360.70 610.45)" dominant-baseline="middle">% of Glucose<tspan baseline-shift="super" font-size="5">+</tspan> cells</text><rect x="0.50" y="0.50" width="519.00" height="708.00" fill="none" stroke="#444" stroke-width="1.2"/></svg>
</body></html>
